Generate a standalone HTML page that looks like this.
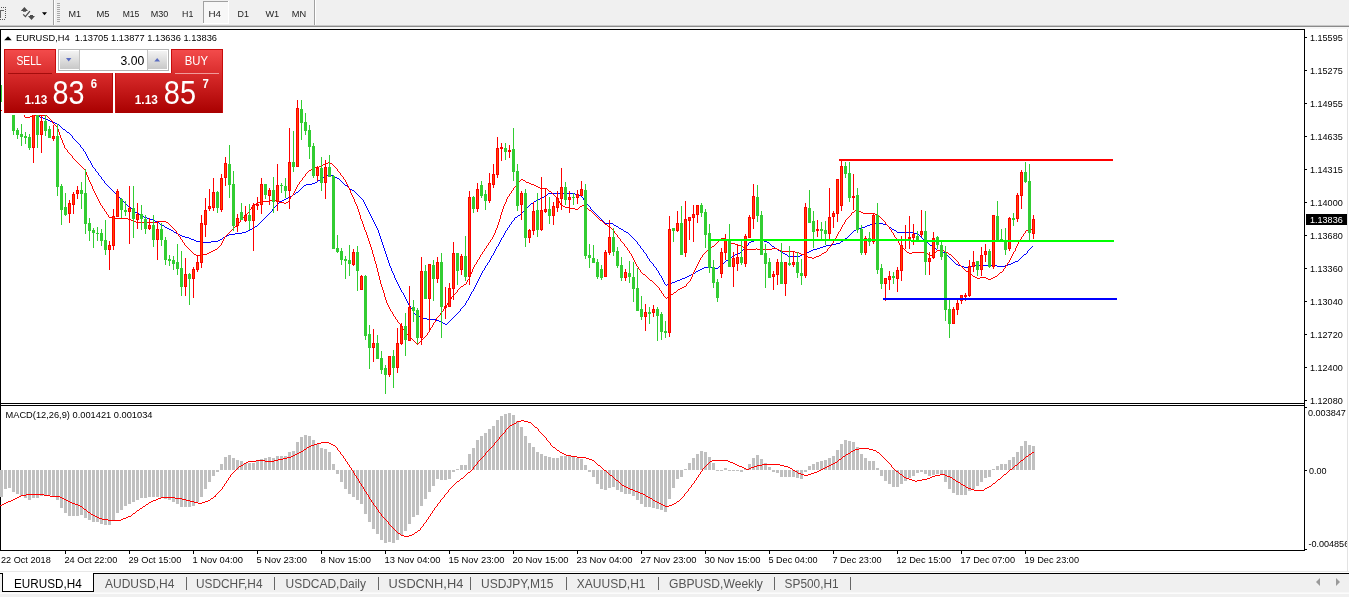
<!DOCTYPE html><html><head><meta charset="utf-8"><title>EURUSD,H4</title>
<style>html,body{margin:0;padding:0;background:#fff;overflow:hidden}svg{display:block}text{font-family:"Liberation Sans",sans-serif;font-size:9.3px;fill:#000}.c{shape-rendering:crispEdges}</style></head><body>
<svg width="1349" height="597" viewBox="0 0 1349 597">
<defs><linearGradient id="gt" x1="0" y1="0" x2="0" y2="1"><stop offset="0" stop-color="#f44c4c"/><stop offset="1" stop-color="#d92c2c"/></linearGradient><linearGradient id="gb" x1="0" y1="0" x2="0" y2="1"><stop offset="0" stop-color="#d92c2c"/><stop offset="1" stop-color="#a90000"/></linearGradient><linearGradient id="gbtn" x1="0" y1="0" x2="0" y2="1"><stop offset="0" stop-color="#f3f3f3"/><stop offset="1" stop-color="#c8c8c8"/></linearGradient><clipPath id="cpm"><rect x="1" y="30" width="1303" height="373"/></clipPath><clipPath id="cpr"><rect x="1305" y="29" width="42" height="530"/></clipPath></defs>
<g class="c">
<rect x="0" y="0" width="1349" height="29" fill="#f0f0f0"/>
<rect x="0" y="25" width="1349" height="1" fill="#c8c8c8"/>
<rect x="0" y="26" width="1349" height="1" fill="#8a8a8a"/>
<rect x="0" y="27" width="1349" height="2" fill="#f6f6f6"/>
<rect x="53" y="0" width="1" height="25" fill="#a0a0a0"/>
<rect x="54" y="0" width="1" height="25" fill="#ffffff"/>
<rect x="314" y="0" width="1" height="25" fill="#a0a0a0"/>
<rect x="315" y="0" width="1" height="25" fill="#ffffff"/>
<rect x="57" y="3" width="3" height="1" fill="#a8a8a8"/>
<rect x="57" y="5" width="3" height="1" fill="#a8a8a8"/>
<rect x="57" y="7" width="3" height="1" fill="#a8a8a8"/>
<rect x="57" y="9" width="3" height="1" fill="#a8a8a8"/>
<rect x="57" y="11" width="3" height="1" fill="#a8a8a8"/>
<rect x="57" y="13" width="3" height="1" fill="#a8a8a8"/>
<rect x="57" y="15" width="3" height="1" fill="#a8a8a8"/>
<rect x="57" y="17" width="3" height="1" fill="#a8a8a8"/>
<rect x="57" y="19" width="3" height="1" fill="#a8a8a8"/>
<rect x="57" y="21" width="3" height="1" fill="#a8a8a8"/>
<rect x="203" y="1" width="26" height="23" fill="#f7f7f7"/>
<rect x="203" y="1" width="26" height="1" fill="#a0a0a0"/>
<rect x="203" y="1" width="1" height="23" fill="#a0a0a0"/>
<rect x="228" y="1" width="1" height="23" fill="#ffffff"/>
<rect x="203" y="23" width="26" height="1" fill="#ffffff"/>
<rect x="0" y="10" width="4" height="1" fill="#666"/>
<rect x="0" y="10" width="1" height="8" fill="#666"/>
<rect x="5" y="7" width="1" height="1" fill="#555"/>
<rect x="5" y="9" width="1" height="1" fill="#555"/>
<rect x="5" y="11" width="1" height="1" fill="#555"/>
<rect x="5" y="13" width="1" height="1" fill="#555"/>
<rect x="5" y="15" width="1" height="1" fill="#555"/>
<rect x="5" y="17" width="1" height="1" fill="#555"/>
<rect x="1" y="7" width="1" height="1" fill="#555"/>
<rect x="3" y="7" width="1" height="1" fill="#555"/>
<rect x="0" y="19" width="1" height="1" fill="#555"/>
<rect x="2" y="19" width="1" height="1" fill="#555"/>
<rect x="4" y="19" width="1" height="1" fill="#555"/>
</g>
<path d="M20.8 11 L24.4 7 L28 11 Z M28 16 L35 16 L31.5 19.9 Z M23 10.8 H26 V11.8 H23 Z M30 15 H33 V16.2 H30 Z" fill="#4c4c4c"/>
<path d="M23.2 14.4 L25.4 16.6 L29.9 11.2" fill="none" stroke="#4c4c4c" stroke-width="1.3"/>
<path d="M42 12.3 L47 12.3 L44.5 15.2 Z" fill="#000"/>
<text x="68.5" y="17" style="font-size:9.6px;fill:#222" textLength="12.6" lengthAdjust="spacingAndGlyphs">M1</text>
<text x="96.5" y="17" style="font-size:9.6px;fill:#222" textLength="13.1" lengthAdjust="spacingAndGlyphs">M5</text>
<text x="122.7" y="17" style="font-size:9.6px;fill:#222" textLength="16.7" lengthAdjust="spacingAndGlyphs">M15</text>
<text x="150.7" y="17" style="font-size:9.6px;fill:#222" textLength="17.6" lengthAdjust="spacingAndGlyphs">M30</text>
<text x="182" y="17" style="font-size:9.6px;fill:#222" textLength="11.3" lengthAdjust="spacingAndGlyphs">H1</text>
<text x="208.5" y="17" style="font-size:9.6px;fill:#222" textLength="12.6" lengthAdjust="spacingAndGlyphs">H4</text>
<text x="237.6" y="17" style="font-size:9.6px;fill:#222" textLength="11.4" lengthAdjust="spacingAndGlyphs">D1</text>
<text x="265.4" y="17" style="font-size:9.6px;fill:#222" textLength="13.8" lengthAdjust="spacingAndGlyphs">W1</text>
<text x="291.8" y="17" style="font-size:9.6px;fill:#222" textLength="14.4" lengthAdjust="spacingAndGlyphs">MN</text>
<g class="c">
<rect x="0" y="29" width="1349" height="543" fill="#fff"/>
<rect x="0" y="29" width="1305" height="1" fill="#000"/>
<rect x="0" y="29" width="1" height="522" fill="#000"/>
<rect x="1304" y="29" width="1" height="522" fill="#000"/>
<rect x="0" y="403" width="1305" height="1" fill="#000"/>
<rect x="0" y="405" width="1305" height="1" fill="#000"/>
<rect x="0" y="550" width="1305" height="1" fill="#000"/>
<rect x="1347" y="29" width="1" height="543" fill="#e3e3e3"/>
<rect x="0" y="571" width="1349" height="1" fill="#e8e8e8"/>
<rect x="0" y="573" width="1349" height="1" fill="#000"/>
<rect x="0" y="574" width="1349" height="23" fill="#f0f0f0"/>
<rect x="0" y="592" width="1349" height="1" fill="#f7f7f7"/>
<rect x="0" y="593" width="1349" height="1" fill="#fcfcfc"/>
<rect x="1305" y="37" width="2" height="1" fill="#000"/>
<rect x="1305" y="70" width="2" height="1" fill="#000"/>
<rect x="1305" y="103" width="2" height="1" fill="#000"/>
<rect x="1305" y="136" width="2" height="1" fill="#000"/>
<rect x="1305" y="169" width="2" height="1" fill="#000"/>
<rect x="1305" y="202" width="2" height="1" fill="#000"/>
<rect x="1305" y="235" width="2" height="1" fill="#000"/>
<rect x="1305" y="268" width="2" height="1" fill="#000"/>
<rect x="1305" y="301" width="2" height="1" fill="#000"/>
<rect x="1305" y="334" width="2" height="1" fill="#000"/>
<rect x="1305" y="367" width="2" height="1" fill="#000"/>
<rect x="1305" y="400" width="2" height="1" fill="#000"/>
<rect x="1305" y="470" width="2" height="1" fill="#000"/>
<rect x="1305" y="407" width="2" height="1" fill="#000"/>
<rect x="1305" y="549" width="2" height="1" fill="#000"/>
<rect x="65" y="551" width="1" height="3" fill="#000"/>
<rect x="129" y="551" width="1" height="3" fill="#000"/>
<rect x="193" y="551" width="1" height="3" fill="#000"/>
<rect x="257" y="551" width="1" height="3" fill="#000"/>
<rect x="321" y="551" width="1" height="3" fill="#000"/>
<rect x="385" y="551" width="1" height="3" fill="#000"/>
<rect x="449" y="551" width="1" height="3" fill="#000"/>
<rect x="513" y="551" width="1" height="3" fill="#000"/>
<rect x="577" y="551" width="1" height="3" fill="#000"/>
<rect x="641" y="551" width="1" height="3" fill="#000"/>
<rect x="705" y="551" width="1" height="3" fill="#000"/>
<rect x="769" y="551" width="1" height="3" fill="#000"/>
<rect x="833" y="551" width="1" height="3" fill="#000"/>
<rect x="897" y="551" width="1" height="3" fill="#000"/>
<rect x="961" y="551" width="1" height="3" fill="#000"/>
<rect x="1025" y="551" width="1" height="3" fill="#000"/>
</g>
<g clip-path="url(#cpr)">
<text x="1310" y="41" style="font-size:9.3px" textLength="32.7" lengthAdjust="spacingAndGlyphs">1.15595</text>
<text x="1310" y="74" style="font-size:9.3px" textLength="32.7" lengthAdjust="spacingAndGlyphs">1.15275</text>
<text x="1310" y="107" style="font-size:9.3px" textLength="32.7" lengthAdjust="spacingAndGlyphs">1.14955</text>
<text x="1310" y="140" style="font-size:9.3px" textLength="32.7" lengthAdjust="spacingAndGlyphs">1.14635</text>
<text x="1310" y="173" style="font-size:9.3px" textLength="32.7" lengthAdjust="spacingAndGlyphs">1.14315</text>
<text x="1310" y="206" style="font-size:9.3px" textLength="32.7" lengthAdjust="spacingAndGlyphs">1.14000</text>
<text x="1310" y="239" style="font-size:9.3px" textLength="32.7" lengthAdjust="spacingAndGlyphs">1.13680</text>
<text x="1310" y="272" style="font-size:9.3px" textLength="32.7" lengthAdjust="spacingAndGlyphs">1.13360</text>
<text x="1310" y="305" style="font-size:9.3px" textLength="32.7" lengthAdjust="spacingAndGlyphs">1.13040</text>
<text x="1310" y="338" style="font-size:9.3px" textLength="32.7" lengthAdjust="spacingAndGlyphs">1.12720</text>
<text x="1310" y="371" style="font-size:9.3px" textLength="32.7" lengthAdjust="spacingAndGlyphs">1.12400</text>
<text x="1310" y="404" style="font-size:9.3px" textLength="32.7" lengthAdjust="spacingAndGlyphs">1.12080</text>
<rect class="c" x="1306" y="214" width="41" height="11" fill="#000"/>
<text x="1310" y="223" style="font-size:9.3px;fill:#fff" textLength="32.7" lengthAdjust="spacingAndGlyphs">1.13836</text>
<text x="1308" y="416" style="font-size:9.3px" textLength="37.8" lengthAdjust="spacingAndGlyphs">0.003847</text>
<text x="1309" y="474" style="font-size:9.3px" textLength="17.6" lengthAdjust="spacingAndGlyphs">0.00</text>
<text x="1308.4" y="547" style="font-size:9.3px" textLength="40.8" lengthAdjust="spacingAndGlyphs">-0.004856</text>
</g>
<text x="1" y="563" style="font-size:9.4px" textLength="49.7" lengthAdjust="spacingAndGlyphs">22 Oct 2018</text>
<text x="64.4" y="563" style="font-size:9.4px" textLength="52.9" lengthAdjust="spacingAndGlyphs">24 Oct 22:00</text>
<text x="128.4" y="563" style="font-size:9.4px" textLength="52.9" lengthAdjust="spacingAndGlyphs">29 Oct 15:00</text>
<text x="192.4" y="563" style="font-size:9.4px" textLength="50.6" lengthAdjust="spacingAndGlyphs">1 Nov 04:00</text>
<text x="256.4" y="563" style="font-size:9.4px" textLength="50.6" lengthAdjust="spacingAndGlyphs">5 Nov 23:00</text>
<text x="320.4" y="563" style="font-size:9.4px" textLength="50.6" lengthAdjust="spacingAndGlyphs">8 Nov 15:00</text>
<text x="384.4" y="563" style="font-size:9.4px" textLength="56.1" lengthAdjust="spacingAndGlyphs">13 Nov 04:00</text>
<text x="448.4" y="563" style="font-size:9.4px" textLength="56.1" lengthAdjust="spacingAndGlyphs">15 Nov 23:00</text>
<text x="512.4" y="563" style="font-size:9.4px" textLength="56.1" lengthAdjust="spacingAndGlyphs">20 Nov 15:00</text>
<text x="576.4" y="563" style="font-size:9.4px" textLength="56.1" lengthAdjust="spacingAndGlyphs">23 Nov 04:00</text>
<text x="640.4" y="563" style="font-size:9.4px" textLength="56.1" lengthAdjust="spacingAndGlyphs">27 Nov 23:00</text>
<text x="704.4" y="563" style="font-size:9.4px" textLength="56.1" lengthAdjust="spacingAndGlyphs">30 Nov 15:00</text>
<text x="768.4" y="563" style="font-size:9.4px" textLength="49.2" lengthAdjust="spacingAndGlyphs">5 Dec 04:00</text>
<text x="832.4" y="563" style="font-size:9.4px" textLength="49.2" lengthAdjust="spacingAndGlyphs">7 Dec 23:00</text>
<text x="896.4" y="563" style="font-size:9.4px" textLength="54.7" lengthAdjust="spacingAndGlyphs">12 Dec 15:00</text>
<text x="960.4" y="563" style="font-size:9.4px" textLength="54.7" lengthAdjust="spacingAndGlyphs">17 Dec 07:00</text>
<text x="1024.4" y="563" style="font-size:9.4px" textLength="54.7" lengthAdjust="spacingAndGlyphs">19 Dec 23:00</text>
<g clip-path="url(#cpm)">
<path class="c" d="M29.5 112V113M30.5 112V113M31.5 113V114M32.5 113V114M33.5 114V115M34.5 114V115M35.5 115V116M36.5 115V116M37.5 116V117M38.5 116V117M39.5 116V117M40.5 117V118M41.5 117V118M42.5 117V118M43.5 118V119M44.5 118V119M45.5 119V120M46.5 119V120M47.5 119V120M48.5 120V121M49.5 120V121M50.5 121V122M51.5 121V122M52.5 122V123M53.5 122V123M54.5 122V123M55.5 123V124M56.5 123V124M57.5 124V125M58.5 124V125M59.5 125V126M60.5 126V127M61.5 127V128M62.5 128V129M63.5 129V130M64.5 129V130M65.5 130V131M66.5 131V132M67.5 132V133M68.5 132V133M69.5 133V134M70.5 134V135M71.5 135V136M72.5 136V138M73.5 138V139M74.5 139V140M75.5 140V141M76.5 141V142M77.5 142V143M78.5 143V144M79.5 144V145M80.5 145V147M81.5 147V148M82.5 148V149M83.5 149V151M84.5 151V152M85.5 152V154M86.5 154V156M87.5 156V158M88.5 158V160M89.5 160V161M90.5 161V163M91.5 163V165M92.5 165V167M93.5 167V168M94.5 168V169M95.5 169V171M96.5 171V172M97.5 172V173M98.5 173V175M99.5 175V176M100.5 176V177M101.5 177V179M102.5 179V180M103.5 180V181M104.5 181V183M105.5 183V184M106.5 184V185M107.5 185V186M108.5 186V187M109.5 187V188M110.5 188V189M111.5 189V190M112.5 190V191M113.5 191V192M114.5 192V193M115.5 193V194M116.5 194V195M117.5 195V196M118.5 196V197M119.5 197V198M120.5 198V199M121.5 199V200M122.5 200V201M123.5 201V202M124.5 202V203M125.5 203V204M126.5 204V205M127.5 205V206M128.5 206V207M129.5 207V208M130.5 207V208M131.5 208V209M132.5 209V210M133.5 210V211M134.5 211V212M135.5 212V213M136.5 212V213M137.5 213V214M138.5 213V214M139.5 214V215M140.5 215V216M141.5 215V216M142.5 216V217M143.5 216V217M144.5 217V218M145.5 217V218M146.5 217V218M147.5 218V219M148.5 218V219M149.5 218V219M150.5 219V220M151.5 219V220M152.5 219V220M153.5 220V221M154.5 220V221M155.5 221V222M156.5 221V222M157.5 222V223M158.5 222V223M159.5 223V224M160.5 224V225M161.5 224V225M162.5 225V226M163.5 225V226M164.5 226V227M165.5 227V228M166.5 227V228M167.5 228V229M168.5 228V229M169.5 229V230M170.5 229V230M171.5 230V231M172.5 230V231M173.5 231V232M174.5 232V233M175.5 232V233M176.5 233V234M177.5 233V234M178.5 234V235M179.5 234V235M180.5 235V236M181.5 235V236M182.5 236V237M183.5 236V237M184.5 236V237M185.5 237V238M186.5 237V238M187.5 237V238M188.5 237V238M189.5 238V239M190.5 238V239M191.5 239V240M192.5 239V240M193.5 239V240M194.5 240V241M195.5 240V241M196.5 241V242M197.5 241V242M198.5 241V242M199.5 241V242M200.5 242V243M201.5 242V243M202.5 242V243M203.5 242V243M204.5 242V243M205.5 242V243M206.5 242V243M207.5 242V243M208.5 242V243M209.5 242V243M210.5 242V243M211.5 241V242M212.5 241V242M213.5 241V242M214.5 241V242M215.5 241V242M216.5 241V242M217.5 241V242M218.5 240V241M219.5 240V241M220.5 239V240M221.5 239V240M222.5 238V239M223.5 237V238M224.5 237V238M225.5 236V237M226.5 236V237M227.5 235V236M228.5 235V236M229.5 234V235M230.5 234V235M231.5 234V235M232.5 234V235M233.5 234V235M234.5 234V235M235.5 233V234M236.5 233V234M237.5 233V234M238.5 233V234M239.5 233V234M240.5 233V234M241.5 233V234M242.5 232V233M243.5 232V233M244.5 232V233M245.5 232V233M246.5 231V232M247.5 231V232M248.5 230V231M249.5 230V231M250.5 229V230M251.5 229V230M252.5 228V229M253.5 228V229M254.5 227V228M255.5 226V227M256.5 226V227M257.5 225V226M258.5 224V225M259.5 223V224M260.5 222V223M261.5 221V222M262.5 220V221M263.5 219V220M264.5 218V219M265.5 217V218M266.5 216V217M267.5 215V216M268.5 214V215M269.5 213V214M270.5 212V213M271.5 211V212M272.5 209V211M273.5 208V209M274.5 207V208M275.5 206V207M276.5 205V206M277.5 204V205M278.5 203V204M279.5 202V203M280.5 201V202M281.5 201V202M282.5 200V201M283.5 200V201M284.5 199V200M285.5 199V200M286.5 198V199M287.5 198V199M288.5 197V198M289.5 197V198M290.5 196V197M291.5 196V197M292.5 195V196M293.5 194V195M294.5 194V195M295.5 193V194M296.5 192V193M297.5 192V193M298.5 191V192M299.5 190V191M300.5 189V190M301.5 188V189M302.5 187V188M303.5 186V187M304.5 185V186M305.5 185V186M306.5 184V185M307.5 184V185M308.5 184V185M309.5 184V185M310.5 184V185M311.5 184V185M312.5 183V184M313.5 183V184M314.5 183V184M315.5 182V183M316.5 182V183M317.5 181V182M318.5 180V181M319.5 180V181M320.5 179V180M321.5 178V179M322.5 178V179M323.5 177V178M324.5 176V177M325.5 176V177M326.5 176V177M327.5 175V176M328.5 175V176M329.5 175V176M330.5 175V176M331.5 175V176M332.5 175V176M333.5 176V177M334.5 176V177M335.5 177V178M336.5 177V178M337.5 178V179M338.5 178V179M339.5 179V180M340.5 180V181M341.5 181V182M342.5 182V183M343.5 183V184M344.5 184V185M345.5 185V186M346.5 185V186M347.5 186V187M348.5 187V188M349.5 188V189M350.5 189V190M351.5 189V190M352.5 190V191M353.5 190V191M354.5 191V192M355.5 192V193M356.5 193V194M357.5 194V195M358.5 195V196M359.5 196V197M360.5 197V198M361.5 198V199M362.5 199V200M363.5 200V202M364.5 202V204M365.5 204V206M366.5 206V208M367.5 208V210M368.5 210V212M369.5 212V214M370.5 214V216M371.5 216V218M372.5 218V220M373.5 220V222M374.5 222V224M375.5 224V226M376.5 226V228M377.5 228V230M378.5 230V233M379.5 233V236M380.5 236V239M381.5 239V242M382.5 242V245M383.5 245V248M384.5 248V251M385.5 251V254M386.5 254V257M387.5 257V260M388.5 260V263M389.5 263V266M390.5 266V268M391.5 268V271M392.5 271V273M393.5 273V275M394.5 275V278M395.5 278V280M396.5 280V282M397.5 282V284M398.5 284V286M399.5 286V288M400.5 288V290M401.5 290V292M402.5 292V293M403.5 293V295M404.5 295V297M405.5 297V299M406.5 299V301M407.5 301V303M408.5 303V305M409.5 305V306M410.5 306V308M411.5 308V309M412.5 309V311M413.5 311V313M414.5 313V314M415.5 314V315M416.5 314V315M417.5 315V316M418.5 316V317M419.5 316V317M420.5 317V318M421.5 317V318M422.5 317V318M423.5 318V319M424.5 318V319M425.5 318V319M426.5 318V319M427.5 319V320M428.5 319V320M429.5 319V320M430.5 319V320M431.5 319V320M432.5 319V320M433.5 319V320M434.5 319V320M435.5 319V320M436.5 320V321M437.5 320V321M438.5 320V321M439.5 321V322M440.5 321V322M441.5 322V323M442.5 322V323M443.5 323V324M444.5 323V324M445.5 324V325M446.5 324V325M447.5 323V324M448.5 322V323M449.5 321V322M450.5 320V321M451.5 319V320M452.5 318V319M453.5 317V318M454.5 316V317M455.5 315V316M456.5 314V315M457.5 313V314M458.5 312V313M459.5 311V312M460.5 309V311M461.5 308V309M462.5 307V308M463.5 306V307M464.5 305V306M465.5 303V305M466.5 301V303M467.5 300V301M468.5 298V300M469.5 296V298M470.5 294V296M471.5 292V294M472.5 291V292M473.5 289V291M474.5 287V289M475.5 285V287M476.5 283V285M477.5 281V283M478.5 279V281M479.5 277V279M480.5 275V277M481.5 273V275M482.5 271V273M483.5 270V271M484.5 268V270M485.5 266V268M486.5 265V266M487.5 263V265M488.5 262V263M489.5 260V262M490.5 258V260M491.5 256V258M492.5 255V256M493.5 253V255M494.5 251V253M495.5 249V251M496.5 247V249M497.5 246V247M498.5 244V246M499.5 242V244M500.5 240V242M501.5 238V240M502.5 237V238M503.5 235V237M504.5 233V235M505.5 231V233M506.5 230V231M507.5 228V230M508.5 227V228M509.5 225V227M510.5 224V225M511.5 222V224M512.5 221V222M513.5 220V221M514.5 218V220M515.5 217V218M516.5 217V218M517.5 216V217M518.5 215V216M519.5 215V216M520.5 214V215M521.5 213V214M522.5 212V213M523.5 211V212M524.5 210V211M525.5 209V210M526.5 208V209M527.5 207V208M528.5 206V207M529.5 205V206M530.5 204V205M531.5 203V204M532.5 203V204M533.5 202V203M534.5 201V202M535.5 201V202M536.5 200V201M537.5 200V201M538.5 199V200M539.5 199V200M540.5 198V199M541.5 198V199M542.5 197V198M543.5 197V198M544.5 196V197M545.5 195V196M546.5 195V196M547.5 194V195M548.5 193V194M549.5 193V194M550.5 193V194M551.5 193V194M552.5 193V194M553.5 193V194M554.5 193V194M555.5 193V194M556.5 193V194M557.5 193V194M558.5 193V194M559.5 193V194M560.5 193V194M561.5 193V194M562.5 193V194M563.5 193V194M564.5 193V194M565.5 193V194M566.5 193V194M567.5 193V194M568.5 193V194M569.5 193V194M570.5 193V194M571.5 193V194M572.5 193V194M573.5 193V194M574.5 193V194M575.5 194V195M576.5 194V195M577.5 194V195M578.5 194V195M579.5 195V196M580.5 195V196M581.5 196V197M582.5 197V198M583.5 198V200M584.5 200V201M585.5 201V202M586.5 202V204M587.5 204V205M588.5 205V206M589.5 206V207M590.5 207V209M591.5 209V210M592.5 210V211M593.5 211V212M594.5 212V213M595.5 213V214M596.5 214V215M597.5 215V216M598.5 216V217M599.5 217V218M600.5 218V219M601.5 219V220M602.5 220V221M603.5 221V222M604.5 222V223M605.5 223V224M606.5 223V224M607.5 223V224M608.5 223V224M609.5 223V224M610.5 223V224M611.5 223V224M612.5 223V224M613.5 224V225M614.5 225V226M615.5 225V226M616.5 226V227M617.5 226V227M618.5 227V228M619.5 228V229M620.5 228V229M621.5 229V230M622.5 229V230M623.5 230V231M624.5 231V232M625.5 231V232M626.5 232V233M627.5 232V233M628.5 233V234M629.5 234V235M630.5 235V236M631.5 236V237M632.5 237V238M633.5 238V239M634.5 239V240M635.5 240V241M636.5 241V242M637.5 242V244M638.5 244V245M639.5 245V246M640.5 246V248M641.5 248V249M642.5 249V250M643.5 250V252M644.5 252V253M645.5 253V254M646.5 254V256M647.5 256V258M648.5 258V259M649.5 259V261M650.5 261V262M651.5 262V263M652.5 263V264M653.5 264V266M654.5 266V267M655.5 267V268M656.5 268V270M657.5 270V271M658.5 271V273M659.5 273V275M660.5 275V276M661.5 276V278M662.5 278V280M663.5 280V282M664.5 282V284M665.5 284V285M666.5 285V286M667.5 284V285M668.5 284V285M669.5 284V285M670.5 283V284M671.5 283V284M672.5 282V283M673.5 282V283M674.5 282V283M675.5 281V282M676.5 281V282M677.5 280V281M678.5 280V281M679.5 280V281M680.5 279V280M681.5 279V280M682.5 278V279M683.5 278V279M684.5 278V279M685.5 277V278M686.5 277V278M687.5 276V277M688.5 276V277M689.5 275V276M690.5 275V276M691.5 274V275M692.5 274V275M693.5 273V274M694.5 273V274M695.5 272V273M696.5 271V272M697.5 271V272M698.5 270V271M699.5 270V271M700.5 269V270M701.5 269V270M702.5 268V269M703.5 268V269M704.5 267V268M705.5 267V268M706.5 267V268M707.5 267V268M708.5 267V268M709.5 267V268M710.5 267V268M711.5 267V268M712.5 267V268M713.5 267V268M714.5 267V268M715.5 268V269M716.5 268V269M717.5 268V269M718.5 267V268M719.5 266V267M720.5 265V266M721.5 264V265M722.5 264V265M723.5 263V264M724.5 262V263M725.5 261V262M726.5 260V261M727.5 260V261M728.5 259V260M729.5 258V259M730.5 257V258M731.5 257V258M732.5 256V257M733.5 255V256M734.5 255V256M735.5 254V255M736.5 254V255M737.5 254V255M738.5 253V254M739.5 253V254M740.5 252V253M741.5 251V252M742.5 250V251M743.5 249V250M744.5 248V249M745.5 247V248M746.5 246V247M747.5 245V246M748.5 243V245M749.5 242V243M750.5 242V243M751.5 241V242M752.5 241V242M753.5 241V242M754.5 240V241M755.5 240V241M756.5 240V241M757.5 240V241M758.5 240V241M759.5 240V241M760.5 240V241M761.5 240V241M762.5 240V241M763.5 240V241M764.5 241V242M765.5 241V242M766.5 241V242M767.5 242V243M768.5 242V243M769.5 243V244M770.5 244V245M771.5 245V246M772.5 246V247M773.5 246V247M774.5 247V248M775.5 248V249M776.5 248V249M777.5 249V250M778.5 250V251M779.5 250V251M780.5 251V252M781.5 251V252M782.5 252V253M783.5 253V254M784.5 253V254M785.5 254V255M786.5 254V255M787.5 255V256M788.5 256V257M789.5 256V257M790.5 256V257M791.5 256V257M792.5 256V257M793.5 256V257M794.5 256V257M795.5 256V257M796.5 256V257M797.5 256V257M798.5 256V257M799.5 256V257M800.5 255V256M801.5 255V256M802.5 254V255M803.5 254V255M804.5 253V254M805.5 253V254M806.5 253V254M807.5 252V253M808.5 252V253M809.5 251V252M810.5 251V252M811.5 250V251M812.5 250V251M813.5 249V250M814.5 249V250M815.5 249V250M816.5 249V250M817.5 248V249M818.5 248V249M819.5 248V249M820.5 247V248M821.5 247V248M822.5 247V248M823.5 246V247M824.5 246V247M825.5 246V247M826.5 245V246M827.5 245V246M828.5 245V246M829.5 245V246M830.5 245V246M831.5 245V246M832.5 244V245M833.5 244V245M834.5 244V245M835.5 244V245M836.5 243V244M837.5 243V244M838.5 243V244M839.5 243V244M840.5 242V243M841.5 241V242M842.5 241V242M843.5 240V241M844.5 239V240M845.5 238V239M846.5 238V239M847.5 237V238M848.5 236V237M849.5 235V236M850.5 234V235M851.5 233V234M852.5 232V233M853.5 231V232M854.5 230V231M855.5 230V231M856.5 229V230M857.5 229V230M858.5 228V229M859.5 228V229M860.5 228V229M861.5 228V229M862.5 227V228M863.5 227V228M864.5 227V228M865.5 226V227M866.5 226V227M867.5 225V226M868.5 225V226M869.5 225V226M870.5 224V225M871.5 224V225M872.5 224V225M873.5 223V224M874.5 223V224M875.5 223V224M876.5 223V224M877.5 223V224M878.5 223V224M879.5 223V224M880.5 223V224M881.5 223V224M882.5 223V224M883.5 224V225M884.5 224V225M885.5 224V225M886.5 224V225M887.5 225V226M888.5 226V227M889.5 227V228M890.5 227V228M891.5 228V229M892.5 229V230M893.5 229V230M894.5 230V231M895.5 230V231M896.5 231V232M897.5 232V233M898.5 232V233M899.5 232V233M900.5 232V233M901.5 232V233M902.5 232V233M903.5 232V233M904.5 232V233M905.5 232V233M906.5 232V233M907.5 232V233M908.5 232V233M909.5 232V233M910.5 232V233M911.5 232V233M912.5 232V233M913.5 232V233M914.5 233V234M915.5 233V234M916.5 233V234M917.5 234V235M918.5 234V235M919.5 235V236M920.5 236V237M921.5 237V238M922.5 238V239M923.5 239V240M924.5 240V241M925.5 241V242M926.5 241V242M927.5 242V243M928.5 243V244M929.5 244V245M930.5 245V246M931.5 245V246M932.5 246V247M933.5 247V248M934.5 247V248M935.5 248V249M936.5 249V250M937.5 250V251M938.5 250V251M939.5 250V251M940.5 251V252M941.5 251V252M942.5 251V252M943.5 252V253M944.5 252V253M945.5 253V254M946.5 254V255M947.5 255V256M948.5 256V257M949.5 257V258M950.5 258V259M951.5 259V260M952.5 260V261M953.5 261V262M954.5 262V263M955.5 263V264M956.5 264V265M957.5 264V265M958.5 265V266M959.5 265V266M960.5 265V266M961.5 266V267M962.5 266V267M963.5 266V267M964.5 267V268M965.5 267V268M966.5 267V268M967.5 267V268M968.5 266V267M969.5 266V267M970.5 266V267M971.5 266V267M972.5 266V267M973.5 265V266M974.5 265V266M975.5 265V266M976.5 265V266M977.5 265V266M978.5 265V266M979.5 265V266M980.5 265V266M981.5 265V266M982.5 265V266M983.5 265V266M984.5 265V266M985.5 265V266M986.5 265V266M987.5 265V266M988.5 265V266M989.5 265V266M990.5 265V266M991.5 265V266M992.5 265V266M993.5 265V266M994.5 265V266M995.5 265V266M996.5 265V266M997.5 266V267M998.5 266V267M999.5 266V267M1000.5 266V267M1001.5 266V267M1002.5 266V267M1003.5 266V267M1004.5 266V267M1005.5 265V266M1006.5 265V266M1007.5 265V266M1008.5 264V265M1009.5 264V265M1010.5 264V265M1011.5 263V264M1012.5 263V264M1013.5 262V263M1014.5 262V263M1015.5 261V262M1016.5 261V262M1017.5 261V262M1018.5 260V261M1019.5 259V260M1020.5 258V259M1021.5 257V258M1022.5 256V257M1023.5 255V256M1024.5 254V255M1025.5 254V255M1026.5 253V254M1027.5 251V253M1028.5 250V251M1029.5 249V250M1030.5 248V249M1031.5 247V248M1032.5 246V247" fill="none" stroke="#0000ff" stroke-width="1"/>
<path class="c" d="M21.5 110V111M22.5 111V113M23.5 113V115M24.5 115V117M25.5 117V118M26.5 117V118M27.5 117V118M28.5 117V118M29.5 117V118M30.5 116V117M31.5 116V117M32.5 115V116M33.5 115V116M34.5 115V116M35.5 115V116M36.5 115V116M37.5 115V116M38.5 115V116M39.5 115V116M40.5 115V116M41.5 115V116M42.5 115V116M43.5 115V116M44.5 115V116M45.5 115V116M46.5 115V116M47.5 116V117M48.5 117V118M49.5 118V119M50.5 119V120M51.5 120V121M52.5 121V123M53.5 123V124M54.5 124V125M55.5 125V126M56.5 126V127M57.5 127V129M58.5 129V132M59.5 132V135M60.5 135V138M61.5 138V140M62.5 140V143M63.5 143V145M64.5 145V148M65.5 148V149M66.5 149V150M67.5 150V152M68.5 152V153M69.5 153V154M70.5 154V155M71.5 155V156M72.5 156V158M73.5 158V159M74.5 159V160M75.5 160V161M76.5 161V162M77.5 162V163M78.5 163V164M79.5 164V165M80.5 165V166M81.5 166V167M82.5 167V168M83.5 168V169M84.5 169V170M85.5 170V172M86.5 172V175M87.5 175V177M88.5 177V180M89.5 180V182M90.5 182V184M91.5 184V186M92.5 186V189M93.5 189V191M94.5 191V193M95.5 193V195M96.5 195V197M97.5 197V199M98.5 199V201M99.5 201V203M100.5 203V205M101.5 205V206M102.5 206V208M103.5 208V209M104.5 209V211M105.5 211V212M106.5 212V214M107.5 214V215M108.5 215V217M109.5 217V218M110.5 217V218M111.5 217V218M112.5 217V218M113.5 218V219M114.5 218V219M115.5 218V219M116.5 218V219M117.5 218V219M118.5 218V219M119.5 218V219M120.5 218V219M121.5 218V219M122.5 218V219M123.5 218V219M124.5 218V219M125.5 218V219M126.5 218V219M127.5 218V219M128.5 219V220M129.5 219V220M130.5 219V220M131.5 220V221M132.5 220V221M133.5 221V222M134.5 221V222M135.5 221V222M136.5 222V223M137.5 222V223M138.5 222V223M139.5 222V223M140.5 222V223M141.5 223V224M142.5 222V223M143.5 222V223M144.5 222V223M145.5 222V223M146.5 222V223M147.5 222V223M148.5 222V223M149.5 222V223M150.5 222V223M151.5 222V223M152.5 222V223M153.5 222V223M154.5 222V223M155.5 222V223M156.5 222V223M157.5 222V223M158.5 221V222M159.5 221V222M160.5 221V222M161.5 221V222M162.5 221V222M163.5 221V222M164.5 221V222M165.5 221V222M166.5 222V223M167.5 222V223M168.5 223V224M169.5 224V225M170.5 225V226M171.5 226V227M172.5 227V228M173.5 228V229M174.5 229V230M175.5 230V231M176.5 231V233M177.5 233V234M178.5 234V236M179.5 236V237M180.5 237V239M181.5 239V240M182.5 240V242M183.5 242V243M184.5 243V245M185.5 245V246M186.5 246V247M187.5 247V248M188.5 248V249M189.5 249V250M190.5 250V251M191.5 251V252M192.5 252V253M193.5 253V254M194.5 254V255M195.5 254V255M196.5 255V256M197.5 255V256M198.5 255V256M199.5 255V256M200.5 255V256M201.5 255V256M202.5 254V255M203.5 254V255M204.5 254V255M205.5 254V255M206.5 254V255M207.5 253V254M208.5 253V254M209.5 252V253M210.5 252V253M211.5 251V252M212.5 251V252M213.5 250V251M214.5 250V251M215.5 249V250M216.5 249V250M217.5 248V249M218.5 247V248M219.5 246V247M220.5 245V246M221.5 243V245M222.5 241V243M223.5 239V241M224.5 237V239M225.5 236V237M226.5 235V236M227.5 234V235M228.5 233V234M229.5 232V233M230.5 231V232M231.5 230V231M232.5 229V230M233.5 228V229M234.5 227V228M235.5 226V227M236.5 226V227M237.5 225V226M238.5 223V225M239.5 222V223M240.5 220V222M241.5 219V220M242.5 218V219M243.5 217V218M244.5 216V217M245.5 215V217M246.5 214V215M247.5 213V214M248.5 212V213M249.5 210V212M250.5 209V210M251.5 207V209M252.5 206V207M253.5 205V206M254.5 204V205M255.5 204V205M256.5 203V204M257.5 203V204M258.5 202V203M259.5 202V203M260.5 201V202M261.5 201V202M262.5 201V202M263.5 201V202M264.5 201V202M265.5 201V202M266.5 201V202M267.5 201V202M268.5 201V202M269.5 201V202M270.5 200V201M271.5 200V201M272.5 200V201M273.5 200V201M274.5 200V201M275.5 200V201M276.5 200V201M277.5 201V202M278.5 201V202M279.5 201V202M280.5 202V203M281.5 202V203M282.5 202V203M283.5 202V203M284.5 203V204M285.5 203V204M286.5 202V203M287.5 202V203M288.5 201V202M289.5 199V201M290.5 197V199M291.5 196V197M292.5 195V196M293.5 193V195M294.5 191V193M295.5 189V191M296.5 187V189M297.5 185V187M298.5 184V185M299.5 182V184M300.5 181V182M301.5 180V181M302.5 178V180M303.5 177V178M304.5 176V177M305.5 174V176M306.5 173V174M307.5 172V173M308.5 171V172M309.5 170V171M310.5 170V171M311.5 169V170M312.5 168V169M313.5 168V169M314.5 167V168M315.5 167V168M316.5 167V168M317.5 167V168M318.5 167V168M319.5 166V167M320.5 166V167M321.5 166V167M322.5 165V166M323.5 164V165M324.5 164V165M325.5 163V164M326.5 163V164M327.5 163V164M328.5 162V163M329.5 162V163M330.5 163V164M331.5 163V164M332.5 164V165M333.5 165V166M334.5 166V167M335.5 167V168M336.5 168V169M337.5 169V171M338.5 171V172M339.5 172V173M340.5 173V175M341.5 175V176M342.5 176V177M343.5 177V179M344.5 179V180M345.5 180V182M346.5 182V184M347.5 184V186M348.5 186V188M349.5 188V190M350.5 190V193M351.5 193V195M352.5 195V197M353.5 197V199M354.5 199V202M355.5 202V204M356.5 204V206M357.5 206V209M358.5 209V212M359.5 212V215M360.5 215V219M361.5 219V221M362.5 221V224M363.5 224V227M364.5 227V230M365.5 230V232M366.5 232V235M367.5 235V238M368.5 238V241M369.5 241V244M370.5 244V247M371.5 247V250M372.5 250V254M373.5 254V257M374.5 257V261M375.5 261V264M376.5 264V268M377.5 268V272M378.5 272V276M379.5 276V280M380.5 280V284M381.5 284V287M382.5 287V290M383.5 290V293M384.5 293V297M385.5 297V300M386.5 300V303M387.5 303V305M388.5 305V307M389.5 307V309M390.5 309V311M391.5 311V312M392.5 312V314M393.5 314V316M394.5 316V317M395.5 317V319M396.5 319V320M397.5 320V322M398.5 322V323M399.5 323V324M400.5 324V326M401.5 326V328M402.5 328V329M403.5 329V330M404.5 330V332M405.5 332V333M406.5 333V334M407.5 334V335M408.5 335V336M409.5 336V337M410.5 337V338M411.5 338V339M412.5 339V340M413.5 340V341M414.5 341V342M415.5 342V343M416.5 343V344M417.5 344V345M418.5 343V344M419.5 342V343M420.5 341V342M421.5 340V341M422.5 339V340M423.5 338V339M424.5 337V338M425.5 336V337M426.5 335V336M427.5 333V335M428.5 332V333M429.5 330V332M430.5 328V330M431.5 327V328M432.5 325V327M433.5 323V325M434.5 322V323M435.5 320V322M436.5 318V320M437.5 317V318M438.5 316V317M439.5 315V316M440.5 313V315M441.5 312V313M442.5 311V312M443.5 309V311M444.5 308V309M445.5 306V308M446.5 305V306M447.5 303V305M448.5 302V303M449.5 300V302M450.5 299V300M451.5 297V299M452.5 296V297M453.5 295V296M454.5 294V295M455.5 293V294M456.5 292V293M457.5 290V292M458.5 289V290M459.5 288V289M460.5 287V288M461.5 286V287M462.5 286V287M463.5 285V286M464.5 284V285M465.5 284V285M466.5 282V284M467.5 280V282M468.5 279V280M469.5 277V279M470.5 274V277M471.5 272V274M472.5 269V272M473.5 267V269M474.5 265V267M475.5 264V265M476.5 262V264M477.5 260V262M478.5 259V260M479.5 257V259M480.5 255V257M481.5 254V255M482.5 252V254M483.5 251V252M484.5 249V251M485.5 248V249M486.5 246V248M487.5 245V246M488.5 243V245M489.5 242V243M490.5 240V242M491.5 239V240M492.5 237V239M493.5 235V237M494.5 233V235M495.5 230V233M496.5 228V230M497.5 225V228M498.5 222V225M499.5 219V222M500.5 215V219M501.5 212V215M502.5 209V212M503.5 206V209M504.5 204V206M505.5 202V204M506.5 199V202M507.5 197V199M508.5 196V197M509.5 194V196M510.5 193V194M511.5 191V193M512.5 190V191M513.5 188V190M514.5 187V188M515.5 186V187M516.5 185V186M517.5 184V185M518.5 182V184M519.5 181V182M520.5 180V181M521.5 179V180M522.5 179V180M523.5 180V181M524.5 180V181M525.5 181V182M526.5 182V183M527.5 182V183M528.5 182V183M529.5 183V184M530.5 183V184M531.5 184V185M532.5 184V185M533.5 184V185M534.5 185V186M535.5 185V186M536.5 186V187M537.5 186V187M538.5 187V188M539.5 187V188M540.5 188V189M541.5 188V189M542.5 188V189M543.5 188V189M544.5 188V189M545.5 188V189M546.5 188V189M547.5 189V190M548.5 190V191M549.5 191V192M550.5 191V192M551.5 192V193M552.5 193V194M553.5 194V195M554.5 195V196M555.5 196V197M556.5 197V198M557.5 198V200M558.5 200V201M559.5 201V203M560.5 203V205M561.5 205V206M562.5 205V206M563.5 206V207M564.5 206V207M565.5 207V208M566.5 207V208M567.5 207V208M568.5 207V208M569.5 208V209M570.5 208V209M571.5 208V209M572.5 208V209M573.5 208V209M574.5 208V209M575.5 209V210M576.5 209V210M577.5 209V210M578.5 208V209M579.5 207V208M580.5 206V207M581.5 206V207M582.5 205V206M583.5 205V206M584.5 206V207M585.5 207V208M586.5 207V208M587.5 208V209M588.5 209V210M589.5 210V211M590.5 210V211M591.5 211V212M592.5 212V213M593.5 213V214M594.5 214V215M595.5 215V216M596.5 216V217M597.5 217V218M598.5 218V219M599.5 219V220M600.5 220V221M601.5 220V221M602.5 221V222M603.5 222V223M604.5 223V224M605.5 224V225M606.5 224V225M607.5 225V226M608.5 226V227M609.5 227V228M610.5 227V228M611.5 228V229M612.5 229V230M613.5 230V231M614.5 231V233M615.5 233V234M616.5 234V235M617.5 235V237M618.5 237V238M619.5 238V239M620.5 239V241M621.5 241V242M622.5 242V243M623.5 243V244M624.5 244V246M625.5 246V247M626.5 247V248M627.5 248V250M628.5 250V251M629.5 251V253M630.5 253V254M631.5 254V256M632.5 256V258M633.5 258V260M634.5 260V262M635.5 262V264M636.5 264V266M637.5 266V267M638.5 267V269M639.5 269V270M640.5 270V272M641.5 272V273M642.5 273V274M643.5 274V275M644.5 274V275M645.5 275V276M646.5 276V277M647.5 277V278M648.5 278V279M649.5 279V280M650.5 280V281M651.5 280V281M652.5 281V282M653.5 282V283M654.5 283V284M655.5 284V285M656.5 285V286M657.5 286V287M658.5 287V288M659.5 288V290M660.5 290V291M661.5 291V293M662.5 293V294M663.5 294V296M664.5 296V297M665.5 297V298M666.5 298V299M667.5 297V298M668.5 296V297M669.5 296V297M670.5 295V296M671.5 294V295M672.5 294V295M673.5 293V294M674.5 292V293M675.5 292V293M676.5 291V292M677.5 290V291M678.5 289V290M679.5 289V290M680.5 288V289M681.5 288V289M682.5 287V288M683.5 287V288M684.5 286V287M685.5 286V287M686.5 284V286M687.5 283V284M688.5 282V283M689.5 281V282M690.5 279V281M691.5 277V279M692.5 274V277M693.5 272V274M694.5 270V272M695.5 268V270M696.5 266V268M697.5 264V266M698.5 262V264M699.5 260V262M700.5 258V260M701.5 257V258M702.5 255V257M703.5 254V255M704.5 253V254M705.5 252V253M706.5 251V252M707.5 250V251M708.5 249V250M709.5 249V250M710.5 248V249M711.5 247V248M712.5 246V247M713.5 246V247M714.5 245V246M715.5 244V245M716.5 243V244M717.5 242V243M718.5 241V242M719.5 240V241M720.5 239V240M721.5 238V239M722.5 238V239M723.5 238V239M724.5 238V239M725.5 239V240M726.5 239V240M727.5 240V241M728.5 241V242M729.5 242V243M730.5 243V244M731.5 243V244M732.5 243V244M733.5 243V244M734.5 243V244M735.5 244V245M736.5 244V245M737.5 244V245M738.5 245V246M739.5 245V246M740.5 245V246M741.5 246V247M742.5 246V247M743.5 247V248M744.5 248V249M745.5 248V249M746.5 248V249M747.5 249V250M748.5 249V250M749.5 249V250M750.5 249V250M751.5 249V250M752.5 249V250M753.5 249V250M754.5 249V250M755.5 249V250M756.5 248V249M757.5 249V250M758.5 249V250M759.5 249V250M760.5 249V250M761.5 249V250M762.5 249V250M763.5 249V250M764.5 249V250M765.5 249V250M766.5 249V250M767.5 249V250M768.5 249V250M769.5 249V250M770.5 249V250M771.5 249V250M772.5 248V249M773.5 248V249M774.5 248V249M775.5 248V249M776.5 248V249M777.5 249V250M778.5 249V250M779.5 250V251M780.5 250V251M781.5 251V252M782.5 251V252M783.5 251V252M784.5 251V252M785.5 251V252M786.5 251V252M787.5 251V252M788.5 251V252M789.5 251V252M790.5 251V252M791.5 251V252M792.5 251V252M793.5 251V252M794.5 251V252M795.5 252V253M796.5 252V253M797.5 252V253M798.5 252V253M799.5 253V254M800.5 253V254M801.5 254V255M802.5 254V255M803.5 254V255M804.5 255V256M805.5 255V256M806.5 256V257M807.5 256V257M808.5 257V258M809.5 257V258M810.5 257V258M811.5 257V258M812.5 258V259M813.5 258V259M814.5 257V258M815.5 257V258M816.5 256V257M817.5 256V257M818.5 256V257M819.5 255V256M820.5 255V256M821.5 254V255M822.5 253V254M823.5 253V254M824.5 252V253M825.5 252V253M826.5 251V252M827.5 249V251M828.5 248V249M829.5 247V248M830.5 246V247M831.5 244V246M832.5 243V244M833.5 241V243M834.5 240V241M835.5 238V240M836.5 236V238M837.5 234V236M838.5 232V234M839.5 231V232M840.5 229V231M841.5 227V229M842.5 225V227M843.5 224V225M844.5 222V224M845.5 220V222M846.5 219V220M847.5 218V219M848.5 217V218M849.5 216V217M850.5 215V216M851.5 213V215M852.5 212V213M853.5 212V213M854.5 211V212M855.5 210V211M856.5 210V211M857.5 209V210M858.5 210V211M859.5 211V212M860.5 211V212M861.5 212V213M862.5 212V213M863.5 213V214M864.5 213V214M865.5 213V214M866.5 213V214M867.5 213V214M868.5 213V214M869.5 213V214M870.5 213V214M871.5 213V214M872.5 213V214M873.5 213V214M874.5 213V214M875.5 214V215M876.5 214V215M877.5 214V215M878.5 215V216M879.5 216V217M880.5 217V218M881.5 218V219M882.5 219V220M883.5 220V221M884.5 221V222M885.5 222V224M886.5 224V225M887.5 225V226M888.5 226V227M889.5 227V229M890.5 229V230M891.5 230V232M892.5 232V233M893.5 233V235M894.5 235V237M895.5 237V238M896.5 238V240M897.5 240V241M898.5 241V243M899.5 243V245M900.5 245V246M901.5 246V248M902.5 248V249M903.5 248V249M904.5 249V250M905.5 250V251M906.5 251V252M907.5 252V253M908.5 252V253M909.5 253V254M910.5 253V254M911.5 253V254M912.5 252V253M913.5 252V253M914.5 252V253M915.5 252V253M916.5 252V253M917.5 252V253M918.5 252V253M919.5 252V253M920.5 252V253M921.5 252V253M922.5 252V253M923.5 252V253M924.5 252V253M925.5 252V253M926.5 253V254M927.5 253V254M928.5 254V255M929.5 255V256M930.5 255V256M931.5 255V256M932.5 254V255M933.5 253V254M934.5 252V253M935.5 252V253M936.5 251V252M937.5 250V251M938.5 250V251M939.5 250V251M940.5 250V251M941.5 250V251M942.5 250V251M943.5 250V251M944.5 251V252M945.5 251V252M946.5 252V253M947.5 252V253M948.5 253V254M949.5 254V255M950.5 254V255M951.5 255V256M952.5 256V257M953.5 257V258M954.5 258V259M955.5 259V260M956.5 260V261M957.5 261V262M958.5 262V264M959.5 264V265M960.5 265V266M961.5 266V267M962.5 267V268M963.5 268V269M964.5 269V270M965.5 270V271M966.5 271V272M967.5 271V272M968.5 272V273M969.5 273V274M970.5 274V275M971.5 274V275M972.5 275V276M973.5 276V277M974.5 276V277M975.5 277V278M976.5 277V278M977.5 278V279M978.5 278V279M979.5 278V279M980.5 277V278M981.5 277V278M982.5 277V278M983.5 277V278M984.5 277V278M985.5 277V278M986.5 278V279M987.5 278V279M988.5 279V280M989.5 279V280M990.5 279V280M991.5 278V279M992.5 278V279M993.5 277V278M994.5 277V278M995.5 276V277M996.5 276V277M997.5 275V276M998.5 274V275M999.5 273V274M1000.5 272V273M1001.5 272V273M1002.5 271V272M1003.5 269V271M1004.5 268V269M1005.5 266V268M1006.5 265V266M1007.5 263V265M1008.5 262V263M1009.5 260V262M1010.5 258V260M1011.5 256V258M1012.5 254V256M1013.5 252V254M1014.5 251V252M1015.5 248V251M1016.5 246V248M1017.5 244V246M1018.5 242V244M1019.5 240V242M1020.5 239V240M1021.5 237V239M1022.5 236V237M1023.5 234V236M1024.5 233V234M1025.5 231V233M1026.5 230V231M1027.5 230V231M1028.5 230V231M1029.5 230V231M1030.5 230V231M1031.5 229V230M1032.5 229V230" fill="none" stroke="#ff0000" stroke-width="1"/>
<g class="c">
<rect x="13" y="115" width="1" height="20" fill="#32cd32"/><rect x="12" y="115" width="3" height="16" fill="#32cd32"/>
<rect x="17" y="128" width="1" height="11" fill="#32cd32"/><rect x="16" y="130" width="3" height="5" fill="#32cd32"/>
<rect x="21" y="124" width="1" height="22" fill="#32cd32"/><rect x="20" y="134" width="3" height="3" fill="#32cd32"/>
<rect x="25" y="132" width="1" height="12" fill="#32cd32"/><rect x="24" y="136" width="3" height="2" fill="#32cd32"/>
<rect x="29" y="134" width="1" height="16" fill="#32cd32"/><rect x="28" y="137" width="3" height="11" fill="#32cd32"/>
<rect x="33" y="105" width="1" height="58" fill="#ff0000"/><rect x="32" y="106" width="3" height="42" fill="#ff0000"/>
<rect x="33" y="107" width="1" height="40" fill="#ff4500"/>
<rect x="37" y="100" width="1" height="48" fill="#32cd32"/><rect x="36" y="104" width="3" height="31" fill="#32cd32"/>
<rect x="41" y="108" width="1" height="45" fill="#ff0000"/><rect x="40" y="121" width="3" height="14" fill="#ff0000"/>
<rect x="41" y="122" width="1" height="12" fill="#ff4500"/>
<rect x="45" y="110" width="1" height="26" fill="#32cd32"/><rect x="44" y="121" width="3" height="10" fill="#32cd32"/>
<rect x="49" y="126" width="1" height="12" fill="#32cd32"/><rect x="48" y="129" width="3" height="9" fill="#32cd32"/>
<rect x="53" y="125" width="1" height="16" fill="#ff0000"/><rect x="52" y="136" width="3" height="3" fill="#ff0000"/>
<rect x="53" y="137" width="1" height="1" fill="#ff4500"/>
<rect x="57" y="124" width="1" height="72" fill="#32cd32"/><rect x="56" y="136" width="3" height="51" fill="#32cd32"/>
<rect x="61" y="184" width="1" height="41" fill="#32cd32"/><rect x="60" y="186" width="3" height="24" fill="#32cd32"/>
<rect x="65" y="193" width="1" height="23" fill="#32cd32"/><rect x="64" y="207" width="3" height="8" fill="#32cd32"/>
<rect x="69" y="200" width="1" height="23" fill="#ff0000"/><rect x="68" y="203" width="3" height="11" fill="#ff0000"/>
<rect x="69" y="204" width="1" height="9" fill="#ff4500"/>
<rect x="73" y="192" width="1" height="22" fill="#ff0000"/><rect x="72" y="194" width="3" height="11" fill="#ff0000"/>
<rect x="73" y="195" width="1" height="9" fill="#ff4500"/>
<rect x="77" y="186" width="1" height="13" fill="#ff0000"/><rect x="76" y="190" width="3" height="4" fill="#ff0000"/>
<rect x="77" y="191" width="1" height="2" fill="#ff4500"/>
<rect x="81" y="182" width="1" height="27" fill="#32cd32"/><rect x="80" y="190" width="3" height="4" fill="#32cd32"/>
<rect x="85" y="169" width="1" height="65" fill="#32cd32"/><rect x="84" y="193" width="3" height="31" fill="#32cd32"/>
<rect x="89" y="218" width="1" height="23" fill="#32cd32"/><rect x="88" y="223" width="3" height="8" fill="#32cd32"/>
<rect x="93" y="228" width="1" height="20" fill="#32cd32"/><rect x="92" y="230" width="3" height="3" fill="#32cd32"/>
<rect x="97" y="227" width="1" height="14" fill="#32cd32"/><rect x="96" y="233" width="3" height="1" fill="#32cd32"/>
<rect x="101" y="229" width="1" height="17" fill="#32cd32"/><rect x="100" y="233" width="3" height="8" fill="#32cd32"/>
<rect x="105" y="220" width="1" height="35" fill="#32cd32"/><rect x="104" y="240" width="3" height="10" fill="#32cd32"/>
<rect x="109" y="241" width="1" height="29" fill="#ff0000"/><rect x="108" y="245" width="3" height="5" fill="#ff0000"/>
<rect x="109" y="246" width="1" height="3" fill="#ff4500"/>
<rect x="113" y="209" width="1" height="41" fill="#ff0000"/><rect x="112" y="216" width="3" height="30" fill="#ff0000"/>
<rect x="113" y="217" width="1" height="28" fill="#ff4500"/>
<rect x="117" y="189" width="1" height="28" fill="#ff0000"/><rect x="116" y="191" width="3" height="26" fill="#ff0000"/>
<rect x="117" y="192" width="1" height="24" fill="#ff4500"/>
<rect x="121" y="198" width="1" height="20" fill="#32cd32"/><rect x="120" y="199" width="3" height="11" fill="#32cd32"/>
<rect x="125" y="201" width="1" height="15" fill="#32cd32"/><rect x="124" y="210" width="3" height="2" fill="#32cd32"/>
<rect x="129" y="186" width="1" height="58" fill="#ff0000"/><rect x="128" y="208" width="3" height="4" fill="#ff0000"/>
<rect x="129" y="209" width="1" height="2" fill="#ff4500"/>
<rect x="133" y="186" width="1" height="52" fill="#32cd32"/><rect x="132" y="208" width="3" height="11" fill="#32cd32"/>
<rect x="137" y="203" width="1" height="26" fill="#ff0000"/><rect x="136" y="214" width="3" height="6" fill="#ff0000"/>
<rect x="137" y="215" width="1" height="4" fill="#ff4500"/>
<rect x="141" y="205" width="1" height="25" fill="#32cd32"/><rect x="140" y="214" width="3" height="5" fill="#32cd32"/>
<rect x="145" y="215" width="1" height="19" fill="#32cd32"/><rect x="144" y="219" width="3" height="10" fill="#32cd32"/>
<rect x="149" y="218" width="1" height="12" fill="#ff0000"/><rect x="148" y="225" width="3" height="4" fill="#ff0000"/>
<rect x="149" y="226" width="1" height="2" fill="#ff4500"/>
<rect x="153" y="215" width="1" height="32" fill="#32cd32"/><rect x="152" y="225" width="3" height="15" fill="#32cd32"/>
<rect x="157" y="221" width="1" height="39" fill="#ff0000"/><rect x="156" y="229" width="3" height="11" fill="#ff0000"/>
<rect x="157" y="230" width="1" height="9" fill="#ff4500"/>
<rect x="161" y="223" width="1" height="23" fill="#32cd32"/><rect x="160" y="229" width="3" height="11" fill="#32cd32"/>
<rect x="165" y="237" width="1" height="28" fill="#32cd32"/><rect x="164" y="240" width="3" height="20" fill="#32cd32"/>
<rect x="169" y="255" width="1" height="11" fill="#32cd32"/><rect x="168" y="259" width="3" height="2" fill="#32cd32"/>
<rect x="173" y="256" width="1" height="14" fill="#32cd32"/><rect x="172" y="260" width="3" height="4" fill="#32cd32"/>
<rect x="177" y="244" width="1" height="31" fill="#32cd32"/><rect x="176" y="262" width="3" height="7" fill="#32cd32"/>
<rect x="181" y="251" width="1" height="45" fill="#32cd32"/><rect x="180" y="268" width="3" height="19" fill="#32cd32"/>
<rect x="185" y="258" width="1" height="38" fill="#ff0000"/><rect x="184" y="274" width="3" height="13" fill="#ff0000"/>
<rect x="185" y="275" width="1" height="11" fill="#ff4500"/>
<rect x="189" y="273" width="1" height="32" fill="#32cd32"/><rect x="188" y="274" width="3" height="5" fill="#32cd32"/>
<rect x="193" y="267" width="1" height="31" fill="#ff0000"/><rect x="192" y="269" width="3" height="10" fill="#ff0000"/>
<rect x="193" y="270" width="1" height="8" fill="#ff4500"/>
<rect x="197" y="256" width="1" height="16" fill="#ff0000"/><rect x="196" y="262" width="3" height="8" fill="#ff0000"/>
<rect x="197" y="263" width="1" height="6" fill="#ff4500"/>
<rect x="201" y="215" width="1" height="53" fill="#ff0000"/><rect x="200" y="223" width="3" height="40" fill="#ff0000"/>
<rect x="201" y="224" width="1" height="38" fill="#ff4500"/>
<rect x="205" y="198" width="1" height="39" fill="#ff0000"/><rect x="204" y="210" width="3" height="15" fill="#ff0000"/>
<rect x="205" y="211" width="1" height="13" fill="#ff4500"/>
<rect x="209" y="189" width="1" height="22" fill="#ff0000"/><rect x="208" y="206" width="3" height="3" fill="#ff0000"/>
<rect x="209" y="207" width="1" height="1" fill="#ff4500"/>
<rect x="213" y="178" width="1" height="33" fill="#ff0000"/><rect x="212" y="192" width="3" height="16" fill="#ff0000"/>
<rect x="213" y="193" width="1" height="14" fill="#ff4500"/>
<rect x="217" y="191" width="1" height="22" fill="#32cd32"/><rect x="216" y="192" width="3" height="16" fill="#32cd32"/>
<rect x="221" y="174" width="1" height="38" fill="#ff0000"/><rect x="220" y="178" width="3" height="32" fill="#ff0000"/>
<rect x="221" y="179" width="1" height="30" fill="#ff4500"/>
<rect x="225" y="157" width="1" height="29" fill="#ff0000"/><rect x="224" y="163" width="3" height="15" fill="#ff0000"/>
<rect x="225" y="164" width="1" height="13" fill="#ff4500"/>
<rect x="229" y="145" width="1" height="53" fill="#32cd32"/><rect x="228" y="164" width="3" height="21" fill="#32cd32"/>
<rect x="233" y="171" width="1" height="60" fill="#32cd32"/><rect x="232" y="184" width="3" height="42" fill="#32cd32"/>
<rect x="237" y="214" width="1" height="18" fill="#ff0000"/><rect x="236" y="218" width="3" height="8" fill="#ff0000"/>
<rect x="237" y="219" width="1" height="6" fill="#ff4500"/>
<rect x="241" y="203" width="1" height="17" fill="#32cd32"/><rect x="240" y="212" width="3" height="8" fill="#32cd32"/>
<rect x="245" y="206" width="1" height="16" fill="#ff0000"/><rect x="244" y="215" width="3" height="6" fill="#ff0000"/>
<rect x="245" y="216" width="1" height="4" fill="#ff4500"/>
<rect x="249" y="204" width="1" height="26" fill="#32cd32"/><rect x="248" y="215" width="3" height="6" fill="#32cd32"/>
<rect x="253" y="203" width="1" height="48" fill="#ff0000"/><rect x="252" y="205" width="3" height="16" fill="#ff0000"/>
<rect x="253" y="206" width="1" height="14" fill="#ff4500"/>
<rect x="257" y="197" width="1" height="13" fill="#ff0000"/><rect x="256" y="204" width="3" height="2" fill="#ff0000"/>
<rect x="261" y="178" width="1" height="36" fill="#ff0000"/><rect x="260" y="184" width="3" height="21" fill="#ff0000"/>
<rect x="261" y="185" width="1" height="19" fill="#ff4500"/>
<rect x="265" y="184" width="1" height="15" fill="#32cd32"/><rect x="264" y="184" width="3" height="11" fill="#32cd32"/>
<rect x="269" y="188" width="1" height="17" fill="#ff0000"/><rect x="268" y="190" width="3" height="6" fill="#ff0000"/>
<rect x="269" y="191" width="1" height="4" fill="#ff4500"/>
<rect x="273" y="177" width="1" height="36" fill="#32cd32"/><rect x="272" y="190" width="3" height="12" fill="#32cd32"/>
<rect x="277" y="164" width="1" height="47" fill="#ff0000"/><rect x="276" y="185" width="3" height="17" fill="#ff0000"/>
<rect x="277" y="186" width="1" height="15" fill="#ff4500"/>
<rect x="281" y="183" width="1" height="10" fill="#32cd32"/><rect x="280" y="185" width="3" height="1" fill="#32cd32"/>
<rect x="285" y="178" width="1" height="20" fill="#32cd32"/><rect x="284" y="186" width="3" height="5" fill="#32cd32"/>
<rect x="289" y="128" width="1" height="81" fill="#ff0000"/><rect x="288" y="162" width="3" height="29" fill="#ff0000"/>
<rect x="289" y="163" width="1" height="27" fill="#ff4500"/>
<rect x="293" y="131" width="1" height="41" fill="#32cd32"/><rect x="292" y="162" width="3" height="5" fill="#32cd32"/>
<rect x="297" y="100" width="1" height="67" fill="#ff0000"/><rect x="296" y="108" width="3" height="59" fill="#ff0000"/>
<rect x="297" y="109" width="1" height="57" fill="#ff4500"/>
<rect x="301" y="100" width="1" height="40" fill="#32cd32"/><rect x="300" y="109" width="3" height="14" fill="#32cd32"/>
<rect x="305" y="113" width="1" height="22" fill="#32cd32"/><rect x="304" y="122" width="3" height="9" fill="#32cd32"/>
<rect x="309" y="125" width="1" height="34" fill="#32cd32"/><rect x="308" y="130" width="3" height="17" fill="#32cd32"/>
<rect x="313" y="143" width="1" height="35" fill="#32cd32"/><rect x="312" y="146" width="3" height="30" fill="#32cd32"/>
<rect x="317" y="166" width="1" height="15" fill="#ff0000"/><rect x="316" y="168" width="3" height="8" fill="#ff0000"/>
<rect x="317" y="169" width="1" height="6" fill="#ff4500"/>
<rect x="321" y="157" width="1" height="34" fill="#32cd32"/><rect x="320" y="168" width="3" height="15" fill="#32cd32"/>
<rect x="325" y="160" width="1" height="39" fill="#ff0000"/><rect x="324" y="167" width="3" height="16" fill="#ff0000"/>
<rect x="325" y="168" width="1" height="14" fill="#ff4500"/>
<rect x="329" y="155" width="1" height="22" fill="#32cd32"/><rect x="328" y="167" width="3" height="10" fill="#32cd32"/>
<rect x="333" y="175" width="1" height="74" fill="#32cd32"/><rect x="332" y="176" width="3" height="73" fill="#32cd32"/>
<rect x="337" y="235" width="1" height="18" fill="#32cd32"/><rect x="336" y="248" width="3" height="4" fill="#32cd32"/>
<rect x="341" y="248" width="1" height="17" fill="#32cd32"/><rect x="340" y="251" width="3" height="9" fill="#32cd32"/>
<rect x="345" y="256" width="1" height="23" fill="#32cd32"/><rect x="344" y="259" width="3" height="2" fill="#32cd32"/>
<rect x="349" y="245" width="1" height="31" fill="#32cd32"/><rect x="348" y="260" width="3" height="4" fill="#32cd32"/>
<rect x="353" y="249" width="1" height="17" fill="#ff0000"/><rect x="352" y="252" width="3" height="13" fill="#ff0000"/>
<rect x="353" y="253" width="1" height="11" fill="#ff4500"/>
<rect x="357" y="246" width="1" height="45" fill="#32cd32"/><rect x="356" y="252" width="3" height="19" fill="#32cd32"/>
<rect x="361" y="275" width="1" height="15" fill="#ff0000"/><rect x="360" y="276" width="3" height="14" fill="#ff0000"/>
<rect x="361" y="277" width="1" height="12" fill="#ff4500"/>
<rect x="365" y="275" width="1" height="65" fill="#32cd32"/><rect x="364" y="276" width="3" height="60" fill="#32cd32"/>
<rect x="369" y="325" width="1" height="44" fill="#32cd32"/><rect x="368" y="334" width="3" height="14" fill="#32cd32"/>
<rect x="373" y="329" width="1" height="33" fill="#ff0000"/><rect x="372" y="343" width="3" height="5" fill="#ff0000"/>
<rect x="373" y="344" width="1" height="3" fill="#ff4500"/>
<rect x="377" y="335" width="1" height="24" fill="#32cd32"/><rect x="376" y="343" width="3" height="16" fill="#32cd32"/>
<rect x="381" y="351" width="1" height="23" fill="#32cd32"/><rect x="380" y="358" width="3" height="12" fill="#32cd32"/>
<rect x="385" y="365" width="1" height="29" fill="#32cd32"/><rect x="384" y="368" width="3" height="7" fill="#32cd32"/>
<rect x="389" y="356" width="1" height="21" fill="#ff0000"/><rect x="388" y="356" width="3" height="19" fill="#ff0000"/>
<rect x="389" y="357" width="1" height="17" fill="#ff4500"/>
<rect x="393" y="350" width="1" height="38" fill="#32cd32"/><rect x="392" y="356" width="3" height="12" fill="#32cd32"/>
<rect x="397" y="328" width="1" height="45" fill="#ff0000"/><rect x="396" y="343" width="3" height="25" fill="#ff0000"/>
<rect x="397" y="344" width="1" height="23" fill="#ff4500"/>
<rect x="401" y="323" width="1" height="22" fill="#ff0000"/><rect x="400" y="326" width="3" height="18" fill="#ff0000"/>
<rect x="401" y="327" width="1" height="16" fill="#ff4500"/>
<rect x="405" y="313" width="1" height="43" fill="#32cd32"/><rect x="404" y="326" width="3" height="14" fill="#32cd32"/>
<rect x="409" y="286" width="1" height="55" fill="#ff0000"/><rect x="408" y="307" width="3" height="34" fill="#ff0000"/>
<rect x="409" y="308" width="1" height="32" fill="#ff4500"/>
<rect x="413" y="300" width="1" height="22" fill="#32cd32"/><rect x="412" y="307" width="3" height="4" fill="#32cd32"/>
<rect x="417" y="308" width="1" height="36" fill="#32cd32"/><rect x="416" y="310" width="3" height="28" fill="#32cd32"/>
<rect x="421" y="257" width="1" height="88" fill="#ff0000"/><rect x="420" y="271" width="3" height="67" fill="#ff0000"/>
<rect x="421" y="272" width="1" height="65" fill="#ff4500"/>
<rect x="425" y="265" width="1" height="34" fill="#32cd32"/><rect x="424" y="271" width="3" height="28" fill="#32cd32"/>
<rect x="429" y="264" width="1" height="67" fill="#ff0000"/><rect x="428" y="264" width="3" height="35" fill="#ff0000"/>
<rect x="429" y="265" width="1" height="33" fill="#ff4500"/>
<rect x="433" y="260" width="1" height="41" fill="#32cd32"/><rect x="432" y="265" width="3" height="14" fill="#32cd32"/>
<rect x="437" y="257" width="1" height="26" fill="#ff0000"/><rect x="436" y="262" width="3" height="17" fill="#ff0000"/>
<rect x="437" y="263" width="1" height="15" fill="#ff4500"/>
<rect x="441" y="253" width="1" height="85" fill="#32cd32"/><rect x="440" y="262" width="3" height="45" fill="#32cd32"/>
<rect x="445" y="287" width="1" height="32" fill="#ff0000"/><rect x="444" y="306" width="3" height="2" fill="#ff0000"/>
<rect x="449" y="283" width="1" height="24" fill="#ff0000"/><rect x="448" y="288" width="3" height="19" fill="#ff0000"/>
<rect x="449" y="289" width="1" height="17" fill="#ff4500"/>
<rect x="453" y="242" width="1" height="58" fill="#ff0000"/><rect x="452" y="253" width="3" height="36" fill="#ff0000"/>
<rect x="453" y="254" width="1" height="34" fill="#ff4500"/>
<rect x="457" y="253" width="1" height="32" fill="#32cd32"/><rect x="456" y="253" width="3" height="18" fill="#32cd32"/>
<rect x="461" y="254" width="1" height="21" fill="#ff0000"/><rect x="460" y="256" width="3" height="14" fill="#ff0000"/>
<rect x="461" y="257" width="1" height="12" fill="#ff4500"/>
<rect x="465" y="236" width="1" height="45" fill="#32cd32"/><rect x="464" y="256" width="3" height="21" fill="#32cd32"/>
<rect x="469" y="191" width="1" height="94" fill="#ff0000"/><rect x="468" y="197" width="3" height="80" fill="#ff0000"/>
<rect x="469" y="198" width="1" height="78" fill="#ff4500"/>
<rect x="473" y="196" width="1" height="17" fill="#32cd32"/><rect x="472" y="197" width="3" height="12" fill="#32cd32"/>
<rect x="477" y="183" width="1" height="29" fill="#ff0000"/><rect x="476" y="189" width="3" height="20" fill="#ff0000"/>
<rect x="477" y="190" width="1" height="18" fill="#ff4500"/>
<rect x="481" y="181" width="1" height="17" fill="#32cd32"/><rect x="480" y="185" width="3" height="11" fill="#32cd32"/>
<rect x="485" y="190" width="1" height="20" fill="#32cd32"/><rect x="484" y="194" width="3" height="7" fill="#32cd32"/>
<rect x="489" y="173" width="1" height="30" fill="#ff0000"/><rect x="488" y="183" width="3" height="18" fill="#ff0000"/>
<rect x="489" y="184" width="1" height="16" fill="#ff4500"/>
<rect x="493" y="164" width="1" height="24" fill="#ff0000"/><rect x="492" y="174" width="3" height="11" fill="#ff0000"/>
<rect x="493" y="175" width="1" height="9" fill="#ff4500"/>
<rect x="497" y="137" width="1" height="41" fill="#ff0000"/><rect x="496" y="148" width="3" height="27" fill="#ff0000"/>
<rect x="497" y="149" width="1" height="25" fill="#ff4500"/>
<rect x="501" y="143" width="1" height="18" fill="#ff0000"/><rect x="500" y="147" width="3" height="2" fill="#ff0000"/>
<rect x="505" y="143" width="1" height="17" fill="#32cd32"/><rect x="504" y="148" width="3" height="4" fill="#32cd32"/>
<rect x="509" y="145" width="1" height="13" fill="#ff0000"/><rect x="508" y="150" width="3" height="2" fill="#ff0000"/>
<rect x="513" y="128" width="1" height="53" fill="#32cd32"/><rect x="512" y="149" width="3" height="23" fill="#32cd32"/>
<rect x="517" y="164" width="1" height="47" fill="#32cd32"/><rect x="516" y="171" width="3" height="35" fill="#32cd32"/>
<rect x="521" y="191" width="1" height="29" fill="#ff0000"/><rect x="520" y="193" width="3" height="12" fill="#ff0000"/>
<rect x="521" y="194" width="1" height="10" fill="#ff4500"/>
<rect x="525" y="189" width="1" height="58" fill="#32cd32"/><rect x="524" y="193" width="3" height="45" fill="#32cd32"/>
<rect x="529" y="229" width="1" height="14" fill="#ff0000"/><rect x="528" y="230" width="3" height="8" fill="#ff0000"/>
<rect x="529" y="231" width="1" height="6" fill="#ff4500"/>
<rect x="533" y="202" width="1" height="33" fill="#ff0000"/><rect x="532" y="211" width="3" height="20" fill="#ff0000"/>
<rect x="533" y="212" width="1" height="18" fill="#ff4500"/>
<rect x="537" y="193" width="1" height="44" fill="#32cd32"/><rect x="536" y="210" width="3" height="20" fill="#32cd32"/>
<rect x="541" y="177" width="1" height="54" fill="#ff0000"/><rect x="540" y="210" width="3" height="20" fill="#ff0000"/>
<rect x="541" y="211" width="1" height="18" fill="#ff4500"/>
<rect x="545" y="188" width="1" height="25" fill="#ff0000"/><rect x="544" y="209" width="3" height="3" fill="#ff0000"/>
<rect x="545" y="210" width="1" height="1" fill="#ff4500"/>
<rect x="549" y="197" width="1" height="27" fill="#32cd32"/><rect x="548" y="209" width="3" height="7" fill="#32cd32"/>
<rect x="553" y="202" width="1" height="23" fill="#ff0000"/><rect x="552" y="206" width="3" height="10" fill="#ff0000"/>
<rect x="553" y="207" width="1" height="8" fill="#ff4500"/>
<rect x="557" y="191" width="1" height="21" fill="#ff0000"/><rect x="556" y="198" width="3" height="10" fill="#ff0000"/>
<rect x="557" y="199" width="1" height="8" fill="#ff4500"/>
<rect x="561" y="168" width="1" height="42" fill="#ff0000"/><rect x="560" y="187" width="3" height="12" fill="#ff0000"/>
<rect x="561" y="188" width="1" height="10" fill="#ff4500"/>
<rect x="565" y="182" width="1" height="23" fill="#32cd32"/><rect x="564" y="187" width="3" height="13" fill="#32cd32"/>
<rect x="569" y="191" width="1" height="22" fill="#ff0000"/><rect x="568" y="197" width="3" height="3" fill="#ff0000"/>
<rect x="569" y="198" width="1" height="1" fill="#ff4500"/>
<rect x="573" y="193" width="1" height="12" fill="#32cd32"/><rect x="572" y="197" width="3" height="1" fill="#32cd32"/>
<rect x="577" y="190" width="1" height="14" fill="#ff0000"/><rect x="576" y="194" width="3" height="4" fill="#ff0000"/>
<rect x="577" y="195" width="1" height="2" fill="#ff4500"/>
<rect x="581" y="181" width="1" height="15" fill="#ff0000"/><rect x="580" y="189" width="3" height="7" fill="#ff0000"/>
<rect x="581" y="190" width="1" height="5" fill="#ff4500"/>
<rect x="585" y="184" width="1" height="75" fill="#32cd32"/><rect x="584" y="190" width="3" height="66" fill="#32cd32"/>
<rect x="589" y="244" width="1" height="24" fill="#32cd32"/><rect x="588" y="255" width="3" height="3" fill="#32cd32"/>
<rect x="593" y="245" width="1" height="18" fill="#32cd32"/><rect x="592" y="258" width="3" height="5" fill="#32cd32"/>
<rect x="597" y="259" width="1" height="20" fill="#32cd32"/><rect x="596" y="262" width="3" height="15" fill="#32cd32"/>
<rect x="601" y="265" width="1" height="15" fill="#32cd32"/><rect x="600" y="269" width="3" height="9" fill="#32cd32"/>
<rect x="605" y="250" width="1" height="27" fill="#ff0000"/><rect x="604" y="252" width="3" height="25" fill="#ff0000"/>
<rect x="605" y="253" width="1" height="23" fill="#ff4500"/>
<rect x="609" y="220" width="1" height="35" fill="#ff0000"/><rect x="608" y="237" width="3" height="16" fill="#ff0000"/>
<rect x="609" y="238" width="1" height="14" fill="#ff4500"/>
<rect x="613" y="228" width="1" height="28" fill="#32cd32"/><rect x="612" y="237" width="3" height="15" fill="#32cd32"/>
<rect x="617" y="247" width="1" height="21" fill="#32cd32"/><rect x="616" y="251" width="3" height="15" fill="#32cd32"/>
<rect x="621" y="257" width="1" height="24" fill="#32cd32"/><rect x="620" y="265" width="3" height="13" fill="#32cd32"/>
<rect x="625" y="269" width="1" height="12" fill="#ff0000"/><rect x="624" y="272" width="3" height="6" fill="#ff0000"/>
<rect x="625" y="273" width="1" height="4" fill="#ff4500"/>
<rect x="629" y="261" width="1" height="22" fill="#32cd32"/><rect x="628" y="273" width="3" height="4" fill="#32cd32"/>
<rect x="633" y="262" width="1" height="40" fill="#32cd32"/><rect x="632" y="277" width="3" height="12" fill="#32cd32"/>
<rect x="637" y="268" width="1" height="43" fill="#32cd32"/><rect x="636" y="288" width="3" height="23" fill="#32cd32"/>
<rect x="641" y="296" width="1" height="24" fill="#32cd32"/><rect x="640" y="309" width="3" height="8" fill="#32cd32"/>
<rect x="645" y="304" width="1" height="27" fill="#ff0000"/><rect x="644" y="312" width="3" height="5" fill="#ff0000"/>
<rect x="645" y="313" width="1" height="3" fill="#ff4500"/>
<rect x="649" y="307" width="1" height="17" fill="#32cd32"/><rect x="648" y="312" width="3" height="2" fill="#32cd32"/>
<rect x="653" y="305" width="1" height="12" fill="#ff0000"/><rect x="652" y="309" width="3" height="4" fill="#ff0000"/>
<rect x="653" y="310" width="1" height="2" fill="#ff4500"/>
<rect x="657" y="307" width="1" height="34" fill="#32cd32"/><rect x="656" y="309" width="3" height="7" fill="#32cd32"/>
<rect x="661" y="312" width="1" height="28" fill="#32cd32"/><rect x="660" y="314" width="3" height="18" fill="#32cd32"/>
<rect x="665" y="321" width="1" height="17" fill="#32cd32"/><rect x="664" y="331" width="3" height="2" fill="#32cd32"/>
<rect x="669" y="216" width="1" height="121" fill="#ff0000"/><rect x="668" y="229" width="3" height="104" fill="#ff0000"/>
<rect x="669" y="230" width="1" height="102" fill="#ff4500"/>
<rect x="673" y="228" width="1" height="14" fill="#32cd32"/><rect x="672" y="228" width="3" height="3" fill="#32cd32"/>
<rect x="677" y="211" width="1" height="21" fill="#ff0000"/><rect x="676" y="223" width="3" height="8" fill="#ff0000"/>
<rect x="677" y="224" width="1" height="6" fill="#ff4500"/>
<rect x="681" y="206" width="1" height="49" fill="#32cd32"/><rect x="680" y="223" width="3" height="32" fill="#32cd32"/>
<rect x="685" y="201" width="1" height="56" fill="#ff0000"/><rect x="684" y="219" width="3" height="34" fill="#ff0000"/>
<rect x="685" y="220" width="1" height="32" fill="#ff4500"/>
<rect x="689" y="217" width="1" height="23" fill="#ff0000"/><rect x="688" y="217" width="3" height="4" fill="#ff0000"/>
<rect x="689" y="218" width="1" height="2" fill="#ff4500"/>
<rect x="693" y="205" width="1" height="37" fill="#ff0000"/><rect x="692" y="214" width="3" height="4" fill="#ff0000"/>
<rect x="693" y="215" width="1" height="2" fill="#ff4500"/>
<rect x="697" y="205" width="1" height="18" fill="#ff0000"/><rect x="696" y="205" width="3" height="10" fill="#ff0000"/>
<rect x="697" y="206" width="1" height="8" fill="#ff4500"/>
<rect x="701" y="203" width="1" height="14" fill="#32cd32"/><rect x="700" y="205" width="3" height="8" fill="#32cd32"/>
<rect x="705" y="209" width="1" height="39" fill="#32cd32"/><rect x="704" y="212" width="3" height="23" fill="#32cd32"/>
<rect x="709" y="224" width="1" height="49" fill="#32cd32"/><rect x="708" y="233" width="3" height="35" fill="#32cd32"/>
<rect x="713" y="260" width="1" height="28" fill="#32cd32"/><rect x="712" y="267" width="3" height="16" fill="#32cd32"/>
<rect x="717" y="279" width="1" height="23" fill="#32cd32"/><rect x="716" y="282" width="3" height="16" fill="#32cd32"/>
<rect x="721" y="248" width="1" height="30" fill="#ff0000"/><rect x="720" y="252" width="3" height="22" fill="#ff0000"/>
<rect x="721" y="253" width="1" height="20" fill="#ff4500"/>
<rect x="725" y="234" width="1" height="26" fill="#ff0000"/><rect x="724" y="240" width="3" height="13" fill="#ff0000"/>
<rect x="725" y="241" width="1" height="11" fill="#ff4500"/>
<rect x="729" y="224" width="1" height="43" fill="#32cd32"/><rect x="728" y="240" width="3" height="27" fill="#32cd32"/>
<rect x="733" y="252" width="1" height="35" fill="#ff0000"/><rect x="732" y="258" width="3" height="9" fill="#ff0000"/>
<rect x="733" y="259" width="1" height="7" fill="#ff4500"/>
<rect x="737" y="245" width="1" height="26" fill="#ff0000"/><rect x="736" y="257" width="3" height="7" fill="#ff0000"/>
<rect x="737" y="258" width="1" height="5" fill="#ff4500"/>
<rect x="741" y="241" width="1" height="24" fill="#32cd32"/><rect x="740" y="257" width="3" height="6" fill="#32cd32"/>
<rect x="745" y="234" width="1" height="33" fill="#ff0000"/><rect x="744" y="236" width="3" height="28" fill="#ff0000"/>
<rect x="745" y="237" width="1" height="26" fill="#ff4500"/>
<rect x="749" y="215" width="1" height="23" fill="#ff0000"/><rect x="748" y="217" width="3" height="21" fill="#ff0000"/>
<rect x="749" y="218" width="1" height="19" fill="#ff4500"/>
<rect x="753" y="184" width="1" height="45" fill="#ff0000"/><rect x="752" y="196" width="3" height="23" fill="#ff0000"/>
<rect x="753" y="197" width="1" height="21" fill="#ff4500"/>
<rect x="757" y="185" width="1" height="37" fill="#32cd32"/><rect x="756" y="197" width="3" height="19" fill="#32cd32"/>
<rect x="761" y="211" width="1" height="44" fill="#32cd32"/><rect x="760" y="215" width="3" height="40" fill="#32cd32"/>
<rect x="765" y="244" width="1" height="44" fill="#32cd32"/><rect x="764" y="253" width="3" height="11" fill="#32cd32"/>
<rect x="769" y="258" width="1" height="20" fill="#32cd32"/><rect x="768" y="262" width="3" height="16" fill="#32cd32"/>
<rect x="773" y="271" width="1" height="19" fill="#ff0000"/><rect x="772" y="274" width="3" height="3" fill="#ff0000"/>
<rect x="773" y="275" width="1" height="1" fill="#ff4500"/>
<rect x="777" y="259" width="1" height="26" fill="#ff0000"/><rect x="776" y="262" width="3" height="13" fill="#ff0000"/>
<rect x="777" y="263" width="1" height="11" fill="#ff4500"/>
<rect x="781" y="243" width="1" height="41" fill="#32cd32"/><rect x="780" y="262" width="3" height="22" fill="#32cd32"/>
<rect x="785" y="262" width="1" height="34" fill="#ff0000"/><rect x="784" y="262" width="3" height="22" fill="#ff0000"/>
<rect x="785" y="263" width="1" height="20" fill="#ff4500"/>
<rect x="789" y="246" width="1" height="20" fill="#32cd32"/><rect x="788" y="263" width="3" height="2" fill="#32cd32"/>
<rect x="793" y="252" width="1" height="15" fill="#ff0000"/><rect x="792" y="262" width="3" height="3" fill="#ff0000"/>
<rect x="793" y="263" width="1" height="1" fill="#ff4500"/>
<rect x="797" y="252" width="1" height="26" fill="#32cd32"/><rect x="796" y="262" width="3" height="11" fill="#32cd32"/>
<rect x="801" y="259" width="1" height="26" fill="#32cd32"/><rect x="800" y="273" width="3" height="3" fill="#32cd32"/>
<rect x="805" y="203" width="1" height="75" fill="#ff0000"/><rect x="804" y="207" width="3" height="69" fill="#ff0000"/>
<rect x="805" y="208" width="1" height="67" fill="#ff4500"/>
<rect x="809" y="190" width="1" height="33" fill="#32cd32"/><rect x="808" y="208" width="3" height="15" fill="#32cd32"/>
<rect x="813" y="211" width="1" height="37" fill="#32cd32"/><rect x="812" y="221" width="3" height="11" fill="#32cd32"/>
<rect x="817" y="220" width="1" height="17" fill="#ff0000"/><rect x="816" y="229" width="3" height="2" fill="#ff0000"/>
<rect x="821" y="222" width="1" height="17" fill="#32cd32"/><rect x="820" y="229" width="3" height="2" fill="#32cd32"/>
<rect x="825" y="221" width="1" height="24" fill="#32cd32"/><rect x="824" y="230" width="3" height="4" fill="#32cd32"/>
<rect x="829" y="188" width="1" height="51" fill="#ff0000"/><rect x="828" y="217" width="3" height="17" fill="#ff0000"/>
<rect x="829" y="218" width="1" height="15" fill="#ff4500"/>
<rect x="833" y="211" width="1" height="17" fill="#ff0000"/><rect x="832" y="213" width="3" height="4" fill="#ff0000"/>
<rect x="833" y="214" width="1" height="2" fill="#ff4500"/>
<rect x="837" y="179" width="1" height="43" fill="#ff0000"/><rect x="836" y="179" width="3" height="35" fill="#ff0000"/>
<rect x="837" y="180" width="1" height="33" fill="#ff4500"/>
<rect x="841" y="160" width="1" height="51" fill="#ff0000"/><rect x="840" y="166" width="3" height="40" fill="#ff0000"/>
<rect x="841" y="167" width="1" height="38" fill="#ff4500"/>
<rect x="845" y="162" width="1" height="16" fill="#32cd32"/><rect x="844" y="166" width="3" height="8" fill="#32cd32"/>
<rect x="849" y="162" width="1" height="40" fill="#32cd32"/><rect x="848" y="173" width="3" height="25" fill="#32cd32"/>
<rect x="853" y="174" width="1" height="36" fill="#ff0000"/><rect x="852" y="196" width="3" height="2" fill="#ff0000"/>
<rect x="857" y="188" width="1" height="45" fill="#32cd32"/><rect x="856" y="195" width="3" height="35" fill="#32cd32"/>
<rect x="861" y="225" width="1" height="30" fill="#32cd32"/><rect x="860" y="229" width="3" height="24" fill="#32cd32"/>
<rect x="865" y="236" width="1" height="19" fill="#ff0000"/><rect x="864" y="238" width="3" height="15" fill="#ff0000"/>
<rect x="865" y="239" width="1" height="13" fill="#ff4500"/>
<rect x="869" y="232" width="1" height="14" fill="#32cd32"/><rect x="868" y="238" width="3" height="4" fill="#32cd32"/>
<rect x="873" y="213" width="1" height="31" fill="#ff0000"/><rect x="872" y="215" width="3" height="27" fill="#ff0000"/>
<rect x="873" y="216" width="1" height="25" fill="#ff4500"/>
<rect x="877" y="203" width="1" height="71" fill="#32cd32"/><rect x="876" y="215" width="3" height="55" fill="#32cd32"/>
<rect x="881" y="264" width="1" height="25" fill="#32cd32"/><rect x="880" y="268" width="3" height="16" fill="#32cd32"/>
<rect x="885" y="278" width="1" height="23" fill="#ff0000"/><rect x="884" y="278" width="3" height="6" fill="#ff0000"/>
<rect x="885" y="279" width="1" height="4" fill="#ff4500"/>
<rect x="889" y="271" width="1" height="19" fill="#ff0000"/><rect x="888" y="276" width="3" height="4" fill="#ff0000"/>
<rect x="889" y="277" width="1" height="2" fill="#ff4500"/>
<rect x="893" y="272" width="1" height="12" fill="#32cd32"/><rect x="892" y="276" width="3" height="2" fill="#32cd32"/>
<rect x="897" y="267" width="1" height="25" fill="#ff0000"/><rect x="896" y="270" width="3" height="9" fill="#ff0000"/>
<rect x="897" y="271" width="1" height="7" fill="#ff4500"/>
<rect x="901" y="236" width="1" height="45" fill="#ff0000"/><rect x="900" y="245" width="3" height="26" fill="#ff0000"/>
<rect x="901" y="246" width="1" height="24" fill="#ff4500"/>
<rect x="905" y="225" width="1" height="24" fill="#ff0000"/><rect x="904" y="239" width="3" height="2" fill="#ff0000"/>
<rect x="909" y="216" width="1" height="33" fill="#ff0000"/><rect x="908" y="237" width="3" height="2" fill="#ff0000"/>
<rect x="913" y="224" width="1" height="21" fill="#ff0000"/><rect x="912" y="234" width="3" height="4" fill="#ff0000"/>
<rect x="913" y="235" width="1" height="2" fill="#ff4500"/>
<rect x="917" y="231" width="1" height="9" fill="#32cd32"/><rect x="916" y="236" width="3" height="4" fill="#32cd32"/>
<rect x="921" y="210" width="1" height="27" fill="#ff0000"/><rect x="920" y="231" width="3" height="4" fill="#ff0000"/>
<rect x="921" y="232" width="1" height="2" fill="#ff4500"/>
<rect x="925" y="211" width="1" height="64" fill="#32cd32"/><rect x="924" y="231" width="3" height="31" fill="#32cd32"/>
<rect x="929" y="252" width="1" height="23" fill="#ff0000"/><rect x="928" y="258" width="3" height="4" fill="#ff0000"/>
<rect x="929" y="259" width="1" height="2" fill="#ff4500"/>
<rect x="933" y="232" width="1" height="27" fill="#ff0000"/><rect x="932" y="238" width="3" height="20" fill="#ff0000"/>
<rect x="933" y="239" width="1" height="18" fill="#ff4500"/>
<rect x="937" y="236" width="1" height="13" fill="#32cd32"/><rect x="936" y="237" width="3" height="8" fill="#32cd32"/>
<rect x="941" y="242" width="1" height="18" fill="#32cd32"/><rect x="940" y="245" width="3" height="12" fill="#32cd32"/>
<rect x="945" y="246" width="1" height="75" fill="#32cd32"/><rect x="944" y="253" width="3" height="57" fill="#32cd32"/>
<rect x="949" y="300" width="1" height="38" fill="#32cd32"/><rect x="948" y="309" width="3" height="15" fill="#32cd32"/>
<rect x="953" y="307" width="1" height="17" fill="#ff0000"/><rect x="952" y="309" width="3" height="15" fill="#ff0000"/>
<rect x="953" y="310" width="1" height="13" fill="#ff4500"/>
<rect x="957" y="300" width="1" height="15" fill="#ff0000"/><rect x="956" y="303" width="3" height="7" fill="#ff0000"/>
<rect x="957" y="304" width="1" height="5" fill="#ff4500"/>
<rect x="961" y="295" width="1" height="9" fill="#ff0000"/><rect x="960" y="295" width="3" height="6" fill="#ff0000"/>
<rect x="961" y="296" width="1" height="4" fill="#ff4500"/>
<rect x="965" y="293" width="1" height="8" fill="#ff0000"/><rect x="964" y="295" width="3" height="2" fill="#ff0000"/>
<rect x="969" y="260" width="1" height="37" fill="#ff0000"/><rect x="968" y="266" width="3" height="30" fill="#ff0000"/>
<rect x="969" y="267" width="1" height="28" fill="#ff4500"/>
<rect x="973" y="251" width="1" height="21" fill="#ff0000"/><rect x="972" y="262" width="3" height="5" fill="#ff0000"/>
<rect x="973" y="263" width="1" height="3" fill="#ff4500"/>
<rect x="977" y="261" width="1" height="15" fill="#32cd32"/><rect x="976" y="261" width="3" height="9" fill="#32cd32"/>
<rect x="981" y="247" width="1" height="29" fill="#ff0000"/><rect x="980" y="255" width="3" height="15" fill="#ff0000"/>
<rect x="981" y="256" width="1" height="13" fill="#ff4500"/>
<rect x="985" y="244" width="1" height="18" fill="#ff0000"/><rect x="984" y="251" width="3" height="4" fill="#ff0000"/>
<rect x="985" y="252" width="1" height="2" fill="#ff4500"/>
<rect x="989" y="249" width="1" height="19" fill="#32cd32"/><rect x="988" y="251" width="3" height="16" fill="#32cd32"/>
<rect x="993" y="215" width="1" height="54" fill="#ff0000"/><rect x="992" y="215" width="3" height="52" fill="#ff0000"/>
<rect x="993" y="216" width="1" height="50" fill="#ff4500"/>
<rect x="997" y="201" width="1" height="40" fill="#32cd32"/><rect x="996" y="216" width="3" height="24" fill="#32cd32"/>
<rect x="1001" y="229" width="1" height="13" fill="#32cd32"/><rect x="1000" y="239" width="3" height="3" fill="#32cd32"/>
<rect x="1005" y="228" width="1" height="27" fill="#32cd32"/><rect x="1004" y="240" width="3" height="10" fill="#32cd32"/>
<rect x="1009" y="217" width="1" height="34" fill="#ff0000"/><rect x="1008" y="218" width="3" height="31" fill="#ff0000"/>
<rect x="1009" y="219" width="1" height="29" fill="#ff4500"/>
<rect x="1013" y="213" width="1" height="13" fill="#32cd32"/><rect x="1012" y="218" width="3" height="2" fill="#32cd32"/>
<rect x="1017" y="193" width="1" height="29" fill="#ff0000"/><rect x="1016" y="195" width="3" height="24" fill="#ff0000"/>
<rect x="1017" y="196" width="1" height="22" fill="#ff4500"/>
<rect x="1021" y="170" width="1" height="39" fill="#ff0000"/><rect x="1020" y="172" width="3" height="24" fill="#ff0000"/>
<rect x="1021" y="173" width="1" height="22" fill="#ff4500"/>
<rect x="1025" y="162" width="1" height="21" fill="#32cd32"/><rect x="1024" y="172" width="3" height="10" fill="#32cd32"/>
<rect x="1029" y="164" width="1" height="76" fill="#32cd32"/><rect x="1028" y="181" width="3" height="52" fill="#32cd32"/>
<rect x="1033" y="215" width="1" height="24" fill="#ff0000"/><rect x="1032" y="219" width="3" height="15" fill="#ff0000"/>
<rect x="1033" y="220" width="1" height="13" fill="#ff4500"/>
</g>
<g class="c">
<rect x="839" y="159" width="274" height="2" fill="#ff0000"/>
<rect x="708" y="239" width="203" height="2" fill="#00ff00"/>
<rect x="911" y="240" width="203" height="2" fill="#00ff00"/>
<rect x="883" y="298" width="234" height="2" fill="#0000ff"/>
<rect x="2" y="30" width="223" height="85" fill="#ffffff"/>
<rect x="1" y="85" width="1" height="17" fill="#32cd32"/>
<rect x="1" y="110" width="1" height="1" fill="#ff0000"/>
</g></g>
<path d="M4.2 40.2 L11.7 40.2 L8 36.2 Z" fill="#000"/>
<text x="16" y="41" style="font-size:9.3px" textLength="201.0" lengthAdjust="spacingAndGlyphs">EURUSD,H4&#160; 1.13705 1.13877 1.13636 1.13836</text>
<g class="c">
<rect x="4" y="49" width="52" height="25" fill="url(#gt)"/>
<rect x="171" y="49" width="52" height="25" fill="url(#gt)"/>
<rect x="4" y="73" width="109" height="40" fill="url(#gb)"/>
<rect x="115" y="73" width="108" height="40" fill="url(#gb)"/>
<rect x="8" y="73" width="44" height="1" fill="#a40c0c"/>
<rect x="175" y="73" width="44" height="1" fill="#f09a9a"/>
<rect x="4" y="49" width="52" height="1" fill="#c80c0c"/>
<rect x="171" y="49" width="52" height="1" fill="#c80c0c"/>
<rect x="4" y="49" width="1" height="64" fill="#c80c0c"/>
<rect x="222" y="49" width="1" height="64" fill="#c80c0c"/>
<rect x="55" y="49" width="1" height="24" fill="#c80c0c"/>
<rect x="171" y="49" width="1" height="24" fill="#c80c0c"/>
<rect x="112" y="73" width="1" height="40" fill="#b00808"/>
<rect x="115" y="73" width="1" height="40" fill="#c80c0c"/>
<rect x="58" y="49" width="111" height="22" fill="#ffffff"/>
<rect x="58" y="49" width="111" height="1" fill="#b4b4b4"/>
<rect x="58" y="70" width="111" height="1" fill="#b4b4b4"/>
<rect x="58" y="49" width="1" height="22" fill="#b4b4b4"/>
<rect x="168" y="49" width="1" height="22" fill="#b4b4b4"/>
<rect x="60" y="51" width="19" height="18" fill="url(#gbtn)"/>
<rect x="79" y="50" width="1" height="20" fill="#c4c4c4"/>
<rect x="148" y="51" width="19" height="18" fill="url(#gbtn)"/>
<rect x="147" y="50" width="1" height="20" fill="#c4c4c4"/>
</g>
<path d="M66 58 L71.4 58 L68.7 61.4 Z" fill="#5a6cc0"/><path d="M154.3 61.4 L160 61.4 L157.2 58 Z" fill="#5a6cc0"/>
<text x="144.3" y="65" style="font-size:12.5px" textLength="23.7" lengthAdjust="spacingAndGlyphs" text-anchor="end">3.00</text>
<text x="16.4" y="65" style="font-size:12.6px;fill:#fff" textLength="25.2" lengthAdjust="spacingAndGlyphs">SELL</text>
<text x="184.7" y="65" style="font-size:12.6px;fill:#fff" textLength="23.3" lengthAdjust="spacingAndGlyphs">BUY</text>
<text x="24.4" y="104" style="font-size:12px;fill:#fff;font-weight:bold" textLength="23.0" lengthAdjust="spacingAndGlyphs">1.13</text>
<text x="52.4" y="104" style="font-size:33px;fill:#fff" textLength="32.0" lengthAdjust="spacingAndGlyphs">83</text>
<text x="90.7" y="87.5" style="font-size:13px;fill:#fff;font-weight:bold" textLength="6.3" lengthAdjust="spacingAndGlyphs">6</text>
<text x="134.8" y="104" style="font-size:12px;fill:#fff;font-weight:bold" textLength="23.0" lengthAdjust="spacingAndGlyphs">1.13</text>
<text x="163.8" y="104" style="font-size:33px;fill:#fff" textLength="32.2" lengthAdjust="spacingAndGlyphs">85</text>
<text x="202.4" y="87.5" style="font-size:13px;fill:#fff;font-weight:bold" textLength="6.3" lengthAdjust="spacingAndGlyphs">7</text>
<g class="c">
<rect x="0" y="470" width="3" height="27" fill="#c0c0c0"/>
<rect x="4" y="470" width="3" height="19" fill="#c0c0c0"/>
<rect x="8" y="470" width="3" height="18" fill="#c0c0c0"/>
<rect x="12" y="470" width="3" height="22" fill="#c0c0c0"/>
<rect x="16" y="470" width="3" height="24" fill="#c0c0c0"/>
<rect x="20" y="470" width="3" height="26" fill="#c0c0c0"/>
<rect x="24" y="470" width="3" height="28" fill="#c0c0c0"/>
<rect x="28" y="470" width="3" height="30" fill="#c0c0c0"/>
<rect x="32" y="470" width="3" height="28" fill="#c0c0c0"/>
<rect x="36" y="470" width="3" height="28" fill="#c0c0c0"/>
<rect x="40" y="470" width="3" height="26" fill="#c0c0c0"/>
<rect x="44" y="470" width="3" height="25" fill="#c0c0c0"/>
<rect x="48" y="470" width="3" height="25" fill="#c0c0c0"/>
<rect x="52" y="470" width="3" height="26" fill="#c0c0c0"/>
<rect x="56" y="470" width="3" height="30" fill="#c0c0c0"/>
<rect x="60" y="470" width="3" height="38" fill="#c0c0c0"/>
<rect x="64" y="470" width="3" height="43" fill="#c0c0c0"/>
<rect x="68" y="470" width="3" height="46" fill="#c0c0c0"/>
<rect x="72" y="470" width="3" height="46" fill="#c0c0c0"/>
<rect x="76" y="470" width="3" height="46" fill="#c0c0c0"/>
<rect x="80" y="470" width="3" height="45" fill="#c0c0c0"/>
<rect x="84" y="470" width="3" height="48" fill="#c0c0c0"/>
<rect x="88" y="470" width="3" height="50" fill="#c0c0c0"/>
<rect x="92" y="470" width="3" height="52" fill="#c0c0c0"/>
<rect x="96" y="470" width="3" height="52" fill="#c0c0c0"/>
<rect x="100" y="470" width="3" height="54" fill="#c0c0c0"/>
<rect x="104" y="470" width="3" height="55" fill="#c0c0c0"/>
<rect x="108" y="470" width="3" height="55" fill="#c0c0c0"/>
<rect x="112" y="470" width="3" height="50" fill="#c0c0c0"/>
<rect x="116" y="470" width="3" height="43" fill="#c0c0c0"/>
<rect x="120" y="470" width="3" height="40" fill="#c0c0c0"/>
<rect x="124" y="470" width="3" height="36" fill="#c0c0c0"/>
<rect x="128" y="470" width="3" height="34" fill="#c0c0c0"/>
<rect x="132" y="470" width="3" height="32" fill="#c0c0c0"/>
<rect x="136" y="470" width="3" height="30" fill="#c0c0c0"/>
<rect x="140" y="470" width="3" height="28" fill="#c0c0c0"/>
<rect x="144" y="470" width="3" height="28" fill="#c0c0c0"/>
<rect x="148" y="470" width="3" height="27" fill="#c0c0c0"/>
<rect x="152" y="470" width="3" height="27" fill="#c0c0c0"/>
<rect x="156" y="470" width="3" height="27" fill="#c0c0c0"/>
<rect x="160" y="470" width="3" height="28" fill="#c0c0c0"/>
<rect x="164" y="470" width="3" height="29" fill="#c0c0c0"/>
<rect x="168" y="470" width="3" height="30" fill="#c0c0c0"/>
<rect x="172" y="470" width="3" height="32" fill="#c0c0c0"/>
<rect x="176" y="470" width="3" height="34" fill="#c0c0c0"/>
<rect x="180" y="470" width="3" height="37" fill="#c0c0c0"/>
<rect x="184" y="470" width="3" height="37" fill="#c0c0c0"/>
<rect x="188" y="470" width="3" height="37" fill="#c0c0c0"/>
<rect x="192" y="470" width="3" height="36" fill="#c0c0c0"/>
<rect x="196" y="470" width="3" height="32" fill="#c0c0c0"/>
<rect x="200" y="470" width="3" height="27" fill="#c0c0c0"/>
<rect x="204" y="470" width="3" height="19" fill="#c0c0c0"/>
<rect x="208" y="470" width="3" height="12" fill="#c0c0c0"/>
<rect x="212" y="470" width="3" height="6" fill="#c0c0c0"/>
<rect x="216" y="470" width="3" height="2" fill="#c0c0c0"/>
<rect x="220" y="464" width="3" height="6" fill="#c0c0c0"/>
<rect x="224" y="457" width="3" height="13" fill="#c0c0c0"/>
<rect x="228" y="455" width="3" height="15" fill="#c0c0c0"/>
<rect x="232" y="458" width="3" height="12" fill="#c0c0c0"/>
<rect x="236" y="460" width="3" height="10" fill="#c0c0c0"/>
<rect x="240" y="461" width="3" height="9" fill="#c0c0c0"/>
<rect x="244" y="463" width="3" height="7" fill="#c0c0c0"/>
<rect x="248" y="463" width="3" height="7" fill="#c0c0c0"/>
<rect x="252" y="463" width="3" height="7" fill="#c0c0c0"/>
<rect x="256" y="460" width="3" height="10" fill="#c0c0c0"/>
<rect x="260" y="459" width="3" height="11" fill="#c0c0c0"/>
<rect x="264" y="458" width="3" height="12" fill="#c0c0c0"/>
<rect x="268" y="457" width="3" height="13" fill="#c0c0c0"/>
<rect x="272" y="458" width="3" height="12" fill="#c0c0c0"/>
<rect x="276" y="456" width="3" height="14" fill="#c0c0c0"/>
<rect x="280" y="456" width="3" height="14" fill="#c0c0c0"/>
<rect x="284" y="456" width="3" height="14" fill="#c0c0c0"/>
<rect x="288" y="452" width="3" height="18" fill="#c0c0c0"/>
<rect x="292" y="451" width="3" height="19" fill="#c0c0c0"/>
<rect x="296" y="442" width="3" height="28" fill="#c0c0c0"/>
<rect x="300" y="437" width="3" height="33" fill="#c0c0c0"/>
<rect x="304" y="435" width="3" height="35" fill="#c0c0c0"/>
<rect x="308" y="436" width="3" height="34" fill="#c0c0c0"/>
<rect x="312" y="440" width="3" height="30" fill="#c0c0c0"/>
<rect x="316" y="444" width="3" height="26" fill="#c0c0c0"/>
<rect x="320" y="448" width="3" height="22" fill="#c0c0c0"/>
<rect x="324" y="449" width="3" height="21" fill="#c0c0c0"/>
<rect x="328" y="452" width="3" height="18" fill="#c0c0c0"/>
<rect x="332" y="464" width="3" height="6" fill="#c0c0c0"/>
<rect x="336" y="470" width="3" height="4" fill="#c0c0c0"/>
<rect x="340" y="470" width="3" height="12" fill="#c0c0c0"/>
<rect x="344" y="470" width="3" height="19" fill="#c0c0c0"/>
<rect x="348" y="470" width="3" height="24" fill="#c0c0c0"/>
<rect x="352" y="470" width="3" height="27" fill="#c0c0c0"/>
<rect x="356" y="470" width="3" height="30" fill="#c0c0c0"/>
<rect x="360" y="470" width="3" height="34" fill="#c0c0c0"/>
<rect x="364" y="470" width="3" height="44" fill="#c0c0c0"/>
<rect x="368" y="470" width="3" height="52" fill="#c0c0c0"/>
<rect x="372" y="470" width="3" height="59" fill="#c0c0c0"/>
<rect x="376" y="470" width="3" height="64" fill="#c0c0c0"/>
<rect x="380" y="470" width="3" height="70" fill="#c0c0c0"/>
<rect x="384" y="470" width="3" height="73" fill="#c0c0c0"/>
<rect x="388" y="470" width="3" height="72" fill="#c0c0c0"/>
<rect x="392" y="470" width="3" height="73" fill="#c0c0c0"/>
<rect x="396" y="470" width="3" height="70" fill="#c0c0c0"/>
<rect x="400" y="470" width="3" height="65" fill="#c0c0c0"/>
<rect x="404" y="470" width="3" height="61" fill="#c0c0c0"/>
<rect x="408" y="470" width="3" height="54" fill="#c0c0c0"/>
<rect x="412" y="470" width="3" height="47" fill="#c0c0c0"/>
<rect x="416" y="470" width="3" height="45" fill="#c0c0c0"/>
<rect x="420" y="470" width="3" height="36" fill="#c0c0c0"/>
<rect x="424" y="470" width="3" height="29" fill="#c0c0c0"/>
<rect x="428" y="470" width="3" height="22" fill="#c0c0c0"/>
<rect x="432" y="470" width="3" height="16" fill="#c0c0c0"/>
<rect x="436" y="470" width="3" height="9" fill="#c0c0c0"/>
<rect x="440" y="470" width="3" height="10" fill="#c0c0c0"/>
<rect x="444" y="470" width="3" height="10" fill="#c0c0c0"/>
<rect x="448" y="470" width="3" height="9" fill="#c0c0c0"/>
<rect x="452" y="470" width="3" height="2" fill="#c0c0c0"/>
<rect x="456" y="469" width="3" height="1" fill="#c0c0c0"/>
<rect x="460" y="465" width="3" height="5" fill="#c0c0c0"/>
<rect x="464" y="465" width="3" height="5" fill="#c0c0c0"/>
<rect x="468" y="454" width="3" height="16" fill="#c0c0c0"/>
<rect x="472" y="448" width="3" height="22" fill="#c0c0c0"/>
<rect x="476" y="440" width="3" height="30" fill="#c0c0c0"/>
<rect x="480" y="436" width="3" height="34" fill="#c0c0c0"/>
<rect x="484" y="433" width="3" height="37" fill="#c0c0c0"/>
<rect x="488" y="429" width="3" height="41" fill="#c0c0c0"/>
<rect x="492" y="426" width="3" height="44" fill="#c0c0c0"/>
<rect x="496" y="420" width="3" height="50" fill="#c0c0c0"/>
<rect x="500" y="416" width="3" height="54" fill="#c0c0c0"/>
<rect x="504" y="414" width="3" height="56" fill="#c0c0c0"/>
<rect x="508" y="413" width="3" height="57" fill="#c0c0c0"/>
<rect x="512" y="415" width="3" height="55" fill="#c0c0c0"/>
<rect x="516" y="421" width="3" height="49" fill="#c0c0c0"/>
<rect x="520" y="427" width="3" height="43" fill="#c0c0c0"/>
<rect x="524" y="436" width="3" height="34" fill="#c0c0c0"/>
<rect x="528" y="443" width="3" height="27" fill="#c0c0c0"/>
<rect x="532" y="447" width="3" height="23" fill="#c0c0c0"/>
<rect x="536" y="452" width="3" height="18" fill="#c0c0c0"/>
<rect x="540" y="454" width="3" height="16" fill="#c0c0c0"/>
<rect x="544" y="456" width="3" height="14" fill="#c0c0c0"/>
<rect x="548" y="457" width="3" height="13" fill="#c0c0c0"/>
<rect x="552" y="458" width="3" height="12" fill="#c0c0c0"/>
<rect x="556" y="458" width="3" height="12" fill="#c0c0c0"/>
<rect x="560" y="456" width="3" height="14" fill="#c0c0c0"/>
<rect x="564" y="456" width="3" height="14" fill="#c0c0c0"/>
<rect x="568" y="456" width="3" height="14" fill="#c0c0c0"/>
<rect x="572" y="457" width="3" height="13" fill="#c0c0c0"/>
<rect x="576" y="458" width="3" height="12" fill="#c0c0c0"/>
<rect x="580" y="459" width="3" height="11" fill="#c0c0c0"/>
<rect x="584" y="465" width="3" height="5" fill="#c0c0c0"/>
<rect x="588" y="470" width="3" height="2" fill="#c0c0c0"/>
<rect x="592" y="470" width="3" height="7" fill="#c0c0c0"/>
<rect x="596" y="470" width="3" height="14" fill="#c0c0c0"/>
<rect x="600" y="470" width="3" height="19" fill="#c0c0c0"/>
<rect x="604" y="470" width="3" height="20" fill="#c0c0c0"/>
<rect x="608" y="470" width="3" height="18" fill="#c0c0c0"/>
<rect x="612" y="470" width="3" height="17" fill="#c0c0c0"/>
<rect x="616" y="470" width="3" height="20" fill="#c0c0c0"/>
<rect x="620" y="470" width="3" height="22" fill="#c0c0c0"/>
<rect x="624" y="470" width="3" height="24" fill="#c0c0c0"/>
<rect x="628" y="470" width="3" height="24" fill="#c0c0c0"/>
<rect x="632" y="470" width="3" height="26" fill="#c0c0c0"/>
<rect x="636" y="470" width="3" height="30" fill="#c0c0c0"/>
<rect x="640" y="470" width="3" height="34" fill="#c0c0c0"/>
<rect x="644" y="470" width="3" height="37" fill="#c0c0c0"/>
<rect x="648" y="470" width="3" height="37" fill="#c0c0c0"/>
<rect x="652" y="470" width="3" height="38" fill="#c0c0c0"/>
<rect x="656" y="470" width="3" height="39" fill="#c0c0c0"/>
<rect x="660" y="470" width="3" height="40" fill="#c0c0c0"/>
<rect x="664" y="470" width="3" height="42" fill="#c0c0c0"/>
<rect x="668" y="470" width="3" height="29" fill="#c0c0c0"/>
<rect x="672" y="470" width="3" height="18" fill="#c0c0c0"/>
<rect x="676" y="470" width="3" height="9" fill="#c0c0c0"/>
<rect x="680" y="470" width="3" height="7" fill="#c0c0c0"/>
<rect x="684" y="469" width="3" height="1" fill="#c0c0c0"/>
<rect x="688" y="463" width="3" height="7" fill="#c0c0c0"/>
<rect x="692" y="458" width="3" height="12" fill="#c0c0c0"/>
<rect x="696" y="454" width="3" height="16" fill="#c0c0c0"/>
<rect x="700" y="451" width="3" height="19" fill="#c0c0c0"/>
<rect x="704" y="452" width="3" height="18" fill="#c0c0c0"/>
<rect x="708" y="457" width="3" height="13" fill="#c0c0c0"/>
<rect x="712" y="463" width="3" height="7" fill="#c0c0c0"/>
<rect x="716" y="470" width="3" height="1" fill="#c0c0c0"/>
<rect x="720" y="470" width="3" height="1" fill="#c0c0c0"/>
<rect x="724" y="468" width="3" height="2" fill="#c0c0c0"/>
<rect x="728" y="470" width="3" height="1" fill="#c0c0c0"/>
<rect x="732" y="470" width="3" height="1" fill="#c0c0c0"/>
<rect x="736" y="470" width="3" height="1" fill="#c0c0c0"/>
<rect x="740" y="470" width="3" height="2" fill="#c0c0c0"/>
<rect x="744" y="469" width="3" height="1" fill="#c0c0c0"/>
<rect x="748" y="464" width="3" height="6" fill="#c0c0c0"/>
<rect x="752" y="458" width="3" height="12" fill="#c0c0c0"/>
<rect x="756" y="455" width="3" height="15" fill="#c0c0c0"/>
<rect x="760" y="459" width="3" height="11" fill="#c0c0c0"/>
<rect x="764" y="463" width="3" height="7" fill="#c0c0c0"/>
<rect x="768" y="467" width="3" height="3" fill="#c0c0c0"/>
<rect x="772" y="470" width="3" height="2" fill="#c0c0c0"/>
<rect x="776" y="470" width="3" height="3" fill="#c0c0c0"/>
<rect x="780" y="470" width="3" height="7" fill="#c0c0c0"/>
<rect x="784" y="470" width="3" height="7" fill="#c0c0c0"/>
<rect x="788" y="470" width="3" height="7" fill="#c0c0c0"/>
<rect x="792" y="470" width="3" height="7" fill="#c0c0c0"/>
<rect x="796" y="470" width="3" height="8" fill="#c0c0c0"/>
<rect x="800" y="470" width="3" height="9" fill="#c0c0c0"/>
<rect x="804" y="470" width="3" height="2" fill="#c0c0c0"/>
<rect x="808" y="466" width="3" height="4" fill="#c0c0c0"/>
<rect x="812" y="464" width="3" height="6" fill="#c0c0c0"/>
<rect x="816" y="462" width="3" height="8" fill="#c0c0c0"/>
<rect x="820" y="461" width="3" height="9" fill="#c0c0c0"/>
<rect x="824" y="460" width="3" height="10" fill="#c0c0c0"/>
<rect x="828" y="458" width="3" height="12" fill="#c0c0c0"/>
<rect x="832" y="456" width="3" height="14" fill="#c0c0c0"/>
<rect x="836" y="450" width="3" height="20" fill="#c0c0c0"/>
<rect x="840" y="444" width="3" height="26" fill="#c0c0c0"/>
<rect x="844" y="440" width="3" height="30" fill="#c0c0c0"/>
<rect x="848" y="441" width="3" height="29" fill="#c0c0c0"/>
<rect x="852" y="442" width="3" height="28" fill="#c0c0c0"/>
<rect x="856" y="447" width="3" height="23" fill="#c0c0c0"/>
<rect x="860" y="454" width="3" height="16" fill="#c0c0c0"/>
<rect x="864" y="458" width="3" height="12" fill="#c0c0c0"/>
<rect x="868" y="461" width="3" height="9" fill="#c0c0c0"/>
<rect x="872" y="461" width="3" height="9" fill="#c0c0c0"/>
<rect x="876" y="468" width="3" height="2" fill="#c0c0c0"/>
<rect x="880" y="470" width="3" height="6" fill="#c0c0c0"/>
<rect x="884" y="470" width="3" height="11" fill="#c0c0c0"/>
<rect x="888" y="470" width="3" height="14" fill="#c0c0c0"/>
<rect x="892" y="470" width="3" height="17" fill="#c0c0c0"/>
<rect x="896" y="470" width="3" height="17" fill="#c0c0c0"/>
<rect x="900" y="470" width="3" height="14" fill="#c0c0c0"/>
<rect x="904" y="470" width="3" height="11" fill="#c0c0c0"/>
<rect x="908" y="470" width="3" height="8" fill="#c0c0c0"/>
<rect x="912" y="470" width="3" height="6" fill="#c0c0c0"/>
<rect x="916" y="470" width="3" height="3" fill="#c0c0c0"/>
<rect x="920" y="470" width="3" height="2" fill="#c0c0c0"/>
<rect x="924" y="470" width="3" height="4" fill="#c0c0c0"/>
<rect x="928" y="470" width="3" height="6" fill="#c0c0c0"/>
<rect x="932" y="470" width="3" height="5" fill="#c0c0c0"/>
<rect x="936" y="470" width="3" height="4" fill="#c0c0c0"/>
<rect x="940" y="470" width="3" height="5" fill="#c0c0c0"/>
<rect x="944" y="470" width="3" height="12" fill="#c0c0c0"/>
<rect x="948" y="470" width="3" height="19" fill="#c0c0c0"/>
<rect x="952" y="470" width="3" height="23" fill="#c0c0c0"/>
<rect x="956" y="470" width="3" height="25" fill="#c0c0c0"/>
<rect x="960" y="470" width="3" height="25" fill="#c0c0c0"/>
<rect x="964" y="470" width="3" height="25" fill="#c0c0c0"/>
<rect x="968" y="470" width="3" height="21" fill="#c0c0c0"/>
<rect x="972" y="470" width="3" height="19" fill="#c0c0c0"/>
<rect x="976" y="470" width="3" height="16" fill="#c0c0c0"/>
<rect x="980" y="470" width="3" height="12" fill="#c0c0c0"/>
<rect x="984" y="470" width="3" height="8" fill="#c0c0c0"/>
<rect x="988" y="470" width="3" height="7" fill="#c0c0c0"/>
<rect x="992" y="469" width="3" height="1" fill="#c0c0c0"/>
<rect x="996" y="466" width="3" height="4" fill="#c0c0c0"/>
<rect x="1000" y="464" width="3" height="6" fill="#c0c0c0"/>
<rect x="1004" y="464" width="3" height="6" fill="#c0c0c0"/>
<rect x="1008" y="460" width="3" height="10" fill="#c0c0c0"/>
<rect x="1012" y="457" width="3" height="13" fill="#c0c0c0"/>
<rect x="1016" y="452" width="3" height="18" fill="#c0c0c0"/>
<rect x="1020" y="446" width="3" height="24" fill="#c0c0c0"/>
<rect x="1024" y="441" width="3" height="29" fill="#c0c0c0"/>
<rect x="1028" y="445" width="3" height="25" fill="#c0c0c0"/>
<rect x="1032" y="446" width="3" height="24" fill="#c0c0c0"/>
</g>
<path class="c" d="M0.5 505V506M1.5 505V506M2.5 504V505M3.5 504V505M4.5 503V504M5.5 503V504M6.5 502V503M7.5 502V503M8.5 501V502M9.5 501V502M10.5 501V502M11.5 500V501M12.5 500V501M13.5 499V500M14.5 499V500M15.5 498V499M16.5 498V499M17.5 497V498M18.5 497V498M19.5 496V497M20.5 496V497M21.5 495V496M22.5 495V496M23.5 495V496M24.5 495V496M25.5 495V496M26.5 494V495M27.5 494V495M28.5 494V495M29.5 494V495M30.5 494V495M31.5 494V495M32.5 494V495M33.5 494V495M34.5 494V495M35.5 494V495M36.5 494V495M37.5 494V495M38.5 494V495M39.5 494V495M40.5 494V495M41.5 494V495M42.5 494V495M43.5 494V495M44.5 495V496M45.5 495V496M46.5 495V496M47.5 495V496M48.5 495V496M49.5 495V496M50.5 496V497M51.5 496V497M52.5 496V497M53.5 496V497M54.5 496V497M55.5 496V497M56.5 496V497M57.5 496V497M58.5 496V497M59.5 496V497M60.5 497V498M61.5 497V498M62.5 498V499M63.5 498V499M64.5 499V500M65.5 499V500M66.5 500V501M67.5 500V501M68.5 501V502M69.5 501V502M70.5 502V503M71.5 502V503M72.5 503V504M73.5 503V504M74.5 503V504M75.5 504V505M76.5 504V505M77.5 504V505M78.5 505V506M79.5 505V506M80.5 506V507M81.5 506V507M82.5 507V508M83.5 508V509M84.5 509V510M85.5 509V510M86.5 510V511M87.5 511V512M88.5 512V513M89.5 512V513M90.5 513V514M91.5 514V515M92.5 514V515M93.5 515V516M94.5 515V516M95.5 516V517M96.5 516V517M97.5 517V518M98.5 517V518M99.5 518V519M100.5 518V519M101.5 518V519M102.5 519V520M103.5 519V520M104.5 519V520M105.5 519V520M106.5 519V520M107.5 519V520M108.5 520V521M109.5 520V521M110.5 520V521M111.5 520V521M112.5 520V521M113.5 520V521M114.5 520V521M115.5 520V521M116.5 520V521M117.5 520V521M118.5 520V521M119.5 520V521M120.5 520V521M121.5 519V520M122.5 519V520M123.5 518V519M124.5 518V519M125.5 518V519M126.5 517V518M127.5 517V518M128.5 516V517M129.5 516V517M130.5 516V517M131.5 515V516M132.5 514V515M133.5 513V514M134.5 513V514M135.5 512V513M136.5 511V512M137.5 510V511M138.5 510V511M139.5 509V510M140.5 508V509M141.5 508V509M142.5 507V508M143.5 506V507M144.5 506V507M145.5 505V506M146.5 504V505M147.5 504V505M148.5 503V504M149.5 502V503M150.5 502V503M151.5 501V502M152.5 501V502M153.5 500V501M154.5 500V501M155.5 500V501M156.5 499V500M157.5 499V500M158.5 498V499M159.5 498V499M160.5 498V499M161.5 497V498M162.5 497V498M163.5 497V498M164.5 497V498M165.5 497V498M166.5 497V498M167.5 497V498M168.5 497V498M169.5 497V498M170.5 497V498M171.5 497V498M172.5 497V498M173.5 497V498M174.5 497V498M175.5 498V499M176.5 498V499M177.5 498V499M178.5 498V499M179.5 498V499M180.5 498V499M181.5 498V499M182.5 499V500M183.5 499V500M184.5 499V500M185.5 499V500M186.5 500V501M187.5 500V501M188.5 500V501M189.5 500V501M190.5 501V502M191.5 501V502M192.5 501V502M193.5 501V502M194.5 502V503M195.5 502V503M196.5 502V503M197.5 502V503M198.5 503V504M199.5 503V504M200.5 503V504M201.5 503V504M202.5 502V503M203.5 502V503M204.5 502V503M205.5 501V502M206.5 501V502M207.5 501V502M208.5 500V501M209.5 500V501M210.5 499V500M211.5 498V499M212.5 498V499M213.5 497V498M214.5 496V497M215.5 495V497M216.5 494V495M217.5 493V494M218.5 492V493M219.5 491V492M220.5 490V491M221.5 489V490M222.5 487V489M223.5 486V487M224.5 484V486M225.5 483V484M226.5 481V483M227.5 480V481M228.5 478V480M229.5 477V478M230.5 475V477M231.5 474V475M232.5 473V474M233.5 472V473M234.5 471V472M235.5 470V471M236.5 469V470M237.5 468V469M238.5 467V468M239.5 466V467M240.5 466V467M241.5 465V466M242.5 465V466M243.5 464V465M244.5 463V464M245.5 463V464M246.5 462V463M247.5 462V463M248.5 461V462M249.5 461V462M250.5 461V462M251.5 461V462M252.5 461V462M253.5 461V462M254.5 461V462M255.5 461V462M256.5 460V461M257.5 460V461M258.5 460V461M259.5 460V461M260.5 460V461M261.5 460V461M262.5 460V461M263.5 460V461M264.5 460V461M265.5 461V462M266.5 461V462M267.5 461V462M268.5 461V462M269.5 461V462M270.5 461V462M271.5 461V462M272.5 461V462M273.5 461V462M274.5 460V461M275.5 460V461M276.5 460V461M277.5 460V461M278.5 459V460M279.5 459V460M280.5 459V460M281.5 459V460M282.5 459V460M283.5 458V459M284.5 458V459M285.5 458V459M286.5 458V459M287.5 457V458M288.5 457V458M289.5 457V458M290.5 457V458M291.5 456V457M292.5 456V457M293.5 455V456M294.5 455V456M295.5 454V455M296.5 454V455M297.5 453V454M298.5 453V454M299.5 452V453M300.5 452V453M301.5 451V452M302.5 451V452M303.5 450V451M304.5 449V450M305.5 449V450M306.5 448V449M307.5 447V448M308.5 447V448M309.5 446V447M310.5 446V447M311.5 445V446M312.5 445V446M313.5 445V446M314.5 444V445M315.5 444V445M316.5 444V445M317.5 443V444M318.5 443V444M319.5 443V444M320.5 443V444M321.5 442V443M322.5 442V443M323.5 442V443M324.5 442V443M325.5 442V443M326.5 442V443M327.5 442V443M328.5 442V443M329.5 443V444M330.5 443V444M331.5 444V445M332.5 444V445M333.5 445V446M334.5 445V446M335.5 446V447M336.5 447V448M337.5 448V450M338.5 450V451M339.5 451V452M340.5 452V454M341.5 454V455M342.5 455V456M343.5 456V458M344.5 458V459M345.5 459V461M346.5 461V462M347.5 462V464M348.5 464V465M349.5 465V467M350.5 467V468M351.5 468V470M352.5 470V471M353.5 471V473M354.5 473V475M355.5 475V476M356.5 476V478M357.5 478V479M358.5 479V481M359.5 481V483M360.5 483V484M361.5 484V486M362.5 486V487M363.5 487V489M364.5 489V491M365.5 491V492M366.5 492V494M367.5 494V495M368.5 495V497M369.5 497V499M370.5 499V500M371.5 500V502M372.5 502V503M373.5 503V505M374.5 505V506M375.5 506V507M376.5 507V509M377.5 509V510M378.5 510V512M379.5 512V513M380.5 513V514M381.5 514V516M382.5 516V517M383.5 517V518M384.5 518V519M385.5 519V520M386.5 520V521M387.5 521V522M388.5 522V524M389.5 524V525M390.5 525V526M391.5 526V527M392.5 527V528M393.5 528V529M394.5 529V530M395.5 530V531M396.5 531V532M397.5 532V533M398.5 533V534M399.5 533V534M400.5 534V535M401.5 535V536M402.5 535V536M403.5 535V536M404.5 536V537M405.5 536V537M406.5 536V537M407.5 536V537M408.5 536V537M409.5 535V536M410.5 535V536M411.5 535V536M412.5 534V535M413.5 534V535M414.5 533V534M415.5 532V533M416.5 532V533M417.5 531V532M418.5 530V531M419.5 530V531M420.5 528V530M421.5 527V528M422.5 526V527M423.5 524V526M424.5 523V524M425.5 522V523M426.5 520V522M427.5 519V520M428.5 517V519M429.5 516V517M430.5 514V516M431.5 513V514M432.5 511V513M433.5 510V511M434.5 508V510M435.5 507V508M436.5 506V507M437.5 504V506M438.5 503V504M439.5 502V503M440.5 500V502M441.5 499V500M442.5 498V499M443.5 497V498M444.5 495V497M445.5 494V495M446.5 493V494M447.5 492V493M448.5 490V492M449.5 489V490M450.5 488V489M451.5 487V488M452.5 486V487M453.5 485V486M454.5 484V485M455.5 483V484M456.5 482V483M457.5 481V482M458.5 481V482M459.5 480V481M460.5 479V480M461.5 478V479M462.5 478V479M463.5 477V478M464.5 476V477M465.5 475V476M466.5 474V475M467.5 473V474M468.5 472V473M469.5 472V473M470.5 471V472M471.5 470V471M472.5 469V470M473.5 467V469M474.5 466V467M475.5 465V466M476.5 464V465M477.5 462V464M478.5 461V462M479.5 460V461M480.5 459V460M481.5 458V459M482.5 457V458M483.5 456V457M484.5 455V456M485.5 453V455M486.5 452V453M487.5 451V452M488.5 450V451M489.5 449V450M490.5 448V449M491.5 447V448M492.5 446V447M493.5 445V446M494.5 443V445M495.5 442V443M496.5 441V442M497.5 440V441M498.5 439V440M499.5 437V439M500.5 436V437M501.5 435V436M502.5 434V435M503.5 433V434M504.5 432V433M505.5 430V432M506.5 429V430M507.5 428V429M508.5 427V428M509.5 426V427M510.5 425V426M511.5 425V426M512.5 424V425M513.5 424V425M514.5 423V424M515.5 423V424M516.5 422V423M517.5 421V422M518.5 421V422M519.5 421V422M520.5 421V422M521.5 420V421M522.5 420V421M523.5 420V421M524.5 421V422M525.5 421V422M526.5 421V422M527.5 421V422M528.5 422V423M529.5 422V423M530.5 422V423M531.5 423V424M532.5 424V425M533.5 425V426M534.5 426V427M535.5 427V428M536.5 427V428M537.5 428V429M538.5 429V431M539.5 431V432M540.5 432V433M541.5 433V434M542.5 434V435M543.5 435V436M544.5 436V437M545.5 437V438M546.5 438V440M547.5 440V441M548.5 441V442M549.5 442V443M550.5 443V445M551.5 445V446M552.5 446V447M553.5 447V448M554.5 447V448M555.5 448V449M556.5 449V450M557.5 450V451M558.5 450V451M559.5 451V452M560.5 452V453M561.5 452V453M562.5 453V454M563.5 453V454M564.5 454V455M565.5 454V455M566.5 455V456M567.5 455V456M568.5 455V456M569.5 455V456M570.5 455V456M571.5 456V457M572.5 456V457M573.5 456V457M574.5 456V457M575.5 456V457M576.5 456V457M577.5 457V458M578.5 457V458M579.5 457V458M580.5 457V458M581.5 457V458M582.5 457V458M583.5 457V458M584.5 457V458M585.5 457V458M586.5 458V459M587.5 458V459M588.5 458V459M589.5 459V460M590.5 459V460M591.5 459V460M592.5 460V461M593.5 460V461M594.5 461V462M595.5 462V463M596.5 463V464M597.5 464V465M598.5 465V466M599.5 465V466M600.5 466V467M601.5 467V468M602.5 468V469M603.5 469V470M604.5 470V471M605.5 470V471M606.5 471V472M607.5 472V473M608.5 473V474M609.5 474V475M610.5 475V476M611.5 475V476M612.5 476V477M613.5 477V478M614.5 478V479M615.5 479V480M616.5 480V481M617.5 480V481M618.5 481V482M619.5 482V483M620.5 483V484M621.5 484V485M622.5 485V486M623.5 485V486M624.5 486V487M625.5 486V487M626.5 487V488M627.5 487V488M628.5 488V489M629.5 488V489M630.5 489V490M631.5 489V490M632.5 489V490M633.5 490V491M634.5 490V491M635.5 491V492M636.5 491V492M637.5 491V492M638.5 492V493M639.5 492V493M640.5 493V494M641.5 493V494M642.5 493V494M643.5 494V495M644.5 494V495M645.5 495V496M646.5 496V497M647.5 496V497M648.5 497V498M649.5 497V498M650.5 498V499M651.5 498V499M652.5 499V500M653.5 500V501M654.5 500V501M655.5 501V502M656.5 501V502M657.5 502V503M658.5 502V503M659.5 503V504M660.5 503V504M661.5 504V505M662.5 504V505M663.5 505V506M664.5 505V506M665.5 506V507M666.5 506V507M667.5 506V507M668.5 506V507M669.5 505V506M670.5 505V506M671.5 505V506M672.5 504V505M673.5 504V505M674.5 503V504M675.5 503V504M676.5 502V503M677.5 501V502M678.5 501V502M679.5 500V501M680.5 499V500M681.5 498V499M682.5 497V498M683.5 496V497M684.5 494V496M685.5 493V494M686.5 492V493M687.5 491V492M688.5 489V491M689.5 488V489M690.5 487V488M691.5 485V487M692.5 484V485M693.5 483V484M694.5 481V483M695.5 480V481M696.5 478V480M697.5 477V478M698.5 475V477M699.5 474V475M700.5 472V474M701.5 471V472M702.5 469V471M703.5 468V469M704.5 467V468M705.5 466V467M706.5 465V466M707.5 464V465M708.5 463V464M709.5 462V463M710.5 461V462M711.5 461V462M712.5 460V461M713.5 460V461M714.5 460V461M715.5 460V461M716.5 460V461M717.5 460V461M718.5 460V461M719.5 460V461M720.5 460V461M721.5 460V461M722.5 460V461M723.5 460V461M724.5 460V461M725.5 460V461M726.5 460V461M727.5 460V461M728.5 461V462M729.5 461V462M730.5 462V463M731.5 462V463M732.5 462V463M733.5 463V464M734.5 463V464M735.5 464V465M736.5 464V465M737.5 465V466M738.5 465V466M739.5 466V467M740.5 466V467M741.5 466V467M742.5 467V468M743.5 467V468M744.5 468V469M745.5 468V469M746.5 469V470M747.5 469V470M748.5 469V470M749.5 468V469M750.5 468V469M751.5 467V468M752.5 467V468M753.5 467V468M754.5 466V467M755.5 466V467M756.5 466V467M757.5 465V466M758.5 465V466M759.5 465V466M760.5 465V466M761.5 465V466M762.5 464V465M763.5 464V465M764.5 464V465M765.5 464V465M766.5 464V465M767.5 464V465M768.5 464V465M769.5 464V465M770.5 464V465M771.5 464V465M772.5 464V465M773.5 464V465M774.5 464V465M775.5 464V465M776.5 464V465M777.5 464V465M778.5 464V465M779.5 464V465M780.5 465V466M781.5 465V466M782.5 465V466M783.5 465V466M784.5 466V467M785.5 466V467M786.5 466V467M787.5 466V467M788.5 467V468M789.5 467V468M790.5 468V469M791.5 468V469M792.5 469V470M793.5 470V471M794.5 470V471M795.5 471V472M796.5 471V472M797.5 472V473M798.5 473V474M799.5 473V474M800.5 473V474M801.5 474V475M802.5 474V475M803.5 474V475M804.5 475V476M805.5 475V476M806.5 475V476M807.5 475V476M808.5 474V475M809.5 474V475M810.5 474V475M811.5 473V474M812.5 473V474M813.5 473V474M814.5 472V473M815.5 472V473M816.5 472V473M817.5 471V472M818.5 471V472M819.5 470V471M820.5 470V471M821.5 469V470M822.5 469V470M823.5 468V469M824.5 468V469M825.5 467V468M826.5 467V468M827.5 466V467M828.5 466V467M829.5 465V466M830.5 465V466M831.5 464V465M832.5 464V465M833.5 463V464M834.5 463V464M835.5 462V463M836.5 462V463M837.5 461V462M838.5 460V461M839.5 459V460M840.5 459V460M841.5 458V459M842.5 457V458M843.5 456V457M844.5 456V457M845.5 455V456M846.5 454V455M847.5 454V455M848.5 453V454M849.5 453V454M850.5 452V453M851.5 451V452M852.5 451V452M853.5 450V451M854.5 450V451M855.5 449V450M856.5 449V450M857.5 449V450M858.5 449V450M859.5 448V449M860.5 448V449M861.5 448V449M862.5 448V449M863.5 448V449M864.5 448V449M865.5 448V449M866.5 448V449M867.5 448V449M868.5 448V449M869.5 449V450M870.5 449V450M871.5 449V450M872.5 449V450M873.5 450V451M874.5 450V451M875.5 450V451M876.5 451V452M877.5 452V453M878.5 452V453M879.5 453V454M880.5 454V455M881.5 455V456M882.5 456V457M883.5 457V458M884.5 458V459M885.5 459V460M886.5 460V461M887.5 461V462M888.5 462V463M889.5 463V464M890.5 464V465M891.5 465V467M892.5 467V468M893.5 468V469M894.5 469V470M895.5 470V471M896.5 471V472M897.5 471V472M898.5 472V473M899.5 473V474M900.5 474V475M901.5 474V475M902.5 475V476M903.5 476V477M904.5 477V478M905.5 477V478M906.5 478V479M907.5 478V479M908.5 478V479M909.5 479V480M910.5 479V480M911.5 479V480M912.5 480V481M913.5 480V481M914.5 480V481M915.5 481V482M916.5 481V482M917.5 480V481M918.5 480V481M919.5 480V481M920.5 480V481M921.5 480V481M922.5 479V480M923.5 479V480M924.5 479V480M925.5 479V480M926.5 479V480M927.5 478V479M928.5 478V479M929.5 478V479M930.5 477V478M931.5 477V478M932.5 476V477M933.5 476V477M934.5 476V477M935.5 475V476M936.5 475V476M937.5 475V476M938.5 475V476M939.5 475V476M940.5 474V475M941.5 474V475M942.5 474V475M943.5 474V475M944.5 474V475M945.5 475V476M946.5 475V476M947.5 476V477M948.5 476V477M949.5 476V477M950.5 477V478M951.5 477V478M952.5 478V479M953.5 479V480M954.5 479V480M955.5 480V481M956.5 481V482M957.5 481V482M958.5 482V483M959.5 482V483M960.5 483V484M961.5 484V485M962.5 484V485M963.5 485V486M964.5 485V486M965.5 486V487M966.5 487V488M967.5 487V488M968.5 488V489M969.5 488V489M970.5 488V489M971.5 489V490M972.5 489V490M973.5 489V490M974.5 490V491M975.5 490V491M976.5 490V491M977.5 490V491M978.5 490V491M979.5 490V491M980.5 490V491M981.5 490V491M982.5 490V491M983.5 490V491M984.5 489V490M985.5 488V489M986.5 488V489M987.5 487V488M988.5 487V488M989.5 486V487M990.5 486V487M991.5 485V486M992.5 484V485M993.5 483V484M994.5 483V484M995.5 482V483M996.5 481V482M997.5 480V481M998.5 479V480M999.5 479V480M1000.5 478V479M1001.5 477V478M1002.5 476V477M1003.5 475V476M1004.5 474V475M1005.5 474V475M1006.5 473V474M1007.5 472V473M1008.5 471V472M1009.5 470V471M1010.5 469V470M1011.5 469V470M1012.5 468V469M1013.5 467V468M1014.5 466V467M1015.5 465V466M1016.5 465V466M1017.5 464V465M1018.5 463V464M1019.5 462V463M1020.5 461V462M1021.5 460V461M1022.5 460V461M1023.5 459V460M1024.5 458V459M1025.5 457V458M1026.5 456V457M1027.5 456V457M1028.5 455V456M1029.5 454V455M1030.5 454V455M1031.5 453V454M1032.5 452V453M1033.5 452V453" fill="none" stroke="#ff0000" stroke-width="1"/>
<text x="5.5" y="418" style="font-size:9.4px" textLength="147.0" lengthAdjust="spacingAndGlyphs">MACD(12,26,9) 0.001421 0.001034</text>
<g class="c">
<rect x="3" y="574" width="90" height="17" fill="#fff"/>
<rect x="2" y="574" width="1" height="18" fill="#000"/>
<rect x="93" y="574" width="1" height="18" fill="#000"/>
<rect x="2" y="591" width="92" height="1" fill="#000"/>
<rect x="3" y="573" width="90" height="1" fill="#fff"/>
<rect x="186" y="577" width="1" height="13" fill="#666"/>
<rect x="274" y="577" width="1" height="13" fill="#666"/>
<rect x="378" y="577" width="1" height="13" fill="#666"/>
<rect x="470" y="577" width="1" height="13" fill="#666"/>
<rect x="566" y="577" width="1" height="13" fill="#666"/>
<rect x="658" y="577" width="1" height="13" fill="#666"/>
<rect x="774" y="577" width="1" height="13" fill="#666"/>
<rect x="850" y="577" width="1" height="13" fill="#666"/>
</g>
<text x="14" y="588" style="font-size:12px;fill:#000" textLength="67.7" lengthAdjust="spacingAndGlyphs">EURUSD,H4</text>
<text x="105" y="588" style="font-size:12px;fill:#555" textLength="69.4" lengthAdjust="spacingAndGlyphs">AUDUSD,H4</text>
<text x="196" y="588" style="font-size:12px;fill:#555" textLength="66.5" lengthAdjust="spacingAndGlyphs">USDCHF,H4</text>
<text x="285.5" y="588" style="font-size:12px;fill:#555" textLength="80.5" lengthAdjust="spacingAndGlyphs">USDCAD,Daily</text>
<text x="388.6" y="588" style="font-size:12px;fill:#555" textLength="74.7" lengthAdjust="spacingAndGlyphs">USDCNH,H4</text>
<text x="481" y="588" style="font-size:12px;fill:#555" textLength="72.4" lengthAdjust="spacingAndGlyphs">USDJPY,M15</text>
<text x="576.8" y="588" style="font-size:12px;fill:#555" textLength="68.7" lengthAdjust="spacingAndGlyphs">XAUUSD,H1</text>
<text x="669" y="588" style="font-size:12px;fill:#555" textLength="93.9" lengthAdjust="spacingAndGlyphs">GBPUSD,Weekly</text>
<text x="784.6" y="588" style="font-size:12px;fill:#555" textLength="54.0" lengthAdjust="spacingAndGlyphs">SP500,H1</text>
<path d="M1316 582 L1320 578 L1320 586 Z M1340 582 L1336 578 L1336 586 Z" fill="#9a9a9a"/>
</svg></body></html>
